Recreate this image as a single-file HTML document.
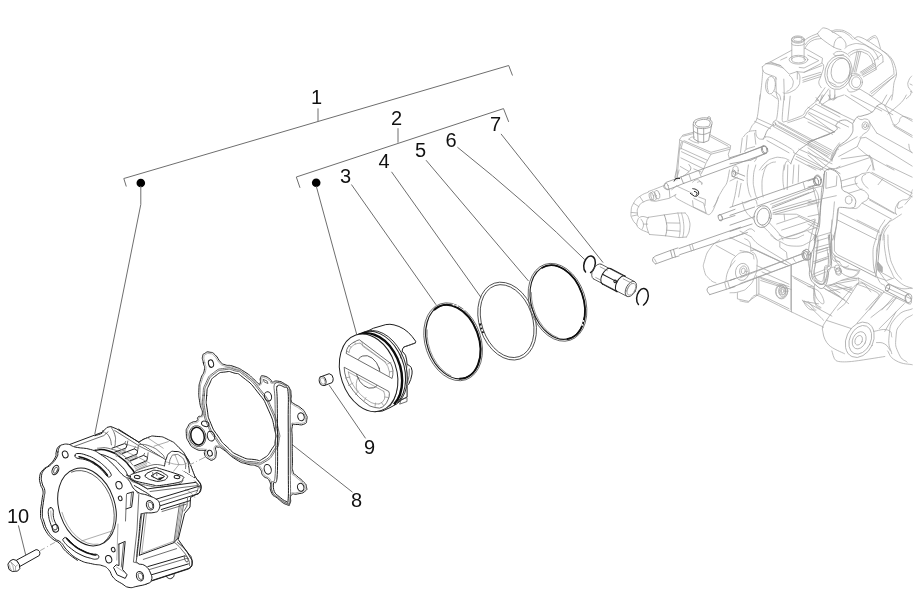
<!DOCTYPE html>
<html><head><meta charset="utf-8">
<style>
html,body{margin:0;padding:0;background:#fff;}
body{width:918px;height:610px;overflow:hidden;font-family:"Liberation Sans",sans-serif;}
svg{display:block;}
.lbl{font-family:"Liberation Sans",sans-serif;font-size:20px;fill:#111;}
.ld{stroke:#6e6e6e;stroke-width:1;fill:none;}
.k{stroke:#1e1e1e;stroke-width:1;fill:none;stroke-linejoin:round;stroke-linecap:round;}
.kb{stroke:#111;stroke-width:1.5;fill:none;stroke-linejoin:round;stroke-linecap:round;}
.k2{stroke:#4a4a4a;stroke-width:.8;fill:none;stroke-linejoin:round;stroke-linecap:round;}
.k3{stroke:#8a8a8a;stroke-width:.7;fill:none;stroke-linejoin:round;stroke-linecap:round;}
.gd{stroke:#909090;stroke-width:.8;fill:none;stroke-linejoin:round;stroke-linecap:round;}
.g{stroke:#a6a6a6;stroke-width:.75;fill:none;stroke-linejoin:round;stroke-linecap:round;}
.gl{stroke:#c4c4c4;stroke-width:.7;fill:none;stroke-linejoin:round;stroke-linecap:round;}
.w{fill:#fff !important;}
</style></head><body>
<svg width="918" height="610" viewBox="0 0 918 610">
<rect width="918" height="610" fill="#fff"/>
<!--crankcase-->
<g id="crankcase">
<ellipse class="g" cx="797.9" cy="39.1" rx="6.4" ry="3.2" transform="rotate(0.0 797.9 39.1)" />
<ellipse class="g" cx="797.9" cy="39.4" rx="4.4" ry="2.0" transform="rotate(0.0 797.9 39.4)" />
<ellipse class="g" cx="797.9" cy="40.0" rx="6.4" ry="3.2" transform="rotate(0.0 797.9 40.0)" />
<path class="g" d="M791.8 40.4 L791.8 59.4" />
<path class="g" d="M804.1 40.4 L804.1 59.4" />
<path class="g" d="M791.5 43.4 C792.4 44.0 791.2 44.6 794.2 45.2 C797.3 45.7 798.6 45.7 801.6 45.2 C804.6 44.6 803.5 44.0 804.3 43.4" />
<ellipse class="g" cx="798.5" cy="59.7" rx="9.4" ry="4.4" transform="rotate(0.0 798.5 59.7)" />
<ellipse class="g" cx="798.5" cy="59.7" rx="7.0" ry="3.2" transform="rotate(0.0 798.5 59.7)" />
<path class="g" d="M762.3 66.8 L766.0 63.7 L770.3 61.9 L791.8 50.2" />
<path class="g" d="M805.3 48.4 L822.5 58.2 L821.9 63.1 L804.1 72.3 L796.7 71.7 L789.3 74.2 L783.2 68.0 L780.7 65.6 L771.5 63.1 L766.0 63.7" />
<path class="g" d="M762.3 66.8 C762.4 67.4 762.3 69.4 762.9 70.5 C763.5 71.6 764.0 72.5 766.0 73.5 C767.9 74.6 772.8 75.7 774.6 76.6 C776.3 77.5 776.1 78.7 776.4 79.1" />
<path class="g" d="M766.0 63.7 C767.0 63.8 770.1 63.9 772.1 64.3 C774.2 64.7 776.4 65.6 778.3 66.2 C780.1 66.8 782.4 67.7 783.2 68.0" />
<path class="g" d="M770.3 61.9 L780.7 65.6" />
<path class="g" d="M780.7 60.0 L786.9 57.2" />
<path class="g" d="M807.8 55.1 L818.8 60.6 L804.1 68.0 L799.2 67.4" />
<path class="g" d="M796.7 71.7 C797.4 72.4 798.2 71.6 799.2 74.2 C800.1 76.7 800.1 76.6 799.8 80.3 C799.4 84.0 800.3 83.1 797.9 86.5 C795.5 89.8 795.5 89.3 791.8 91.4 C788.1 93.4 788.2 92.8 785.6 93.2 C783.1 93.6 783.9 92.8 783.2 92.6" />
<path class="g" d="M789.3 75.4 C790.3 76.5 791.3 76.5 792.4 79.1 C793.5 81.7 793.6 81.0 793.0 84.0 C792.5 86.9 792.4 86.7 790.6 88.9 C788.7 91.1 788.0 90.6 786.9 91.4" />
<path class="g" d="M797.3 71.7 L797.3 79.1" />
<ellipse class="g" cx="770.5" cy="85.2" rx="4.9" ry="8.8" transform="rotate(5.0 770.5 85.2)" />
<path class="g" d="M768.4 79.1 C768.1 80.9 767.2 81.4 767.2 85.2 C767.2 89.1 768.1 90.0 768.4 92.0" />
<path class="g" d="M762.9 70.5 C762.7 72.3 762.1 80.1 761.7 84.0 C761.3 87.9 760.1 97.8 759.8 100.0" />
<path class="g" d="M775.8 77.2 C775.9 79.4 776.1 91.0 776.4 93.8 C776.8 96.7 778.0 98.1 778.3 98.7" />
<path class="g" d="M783.8 79.1 L784.4 100.0" />
<path class="g" d="M774.6 91.4 C775.6 92.1 778.3 93.3 779.5 95.1 C780.7 96.8 780.5 99.0 780.7 100.0" />
<path class="g" d="M804.1 72.3 L821.9 65.6" />
<path class="g" d="M802.2 77.9 L820.7 72.3" />
<path class="g" d="M802.9 80.3 L821.3 74.2" />
<path class="g" d="M802.9 82.2 L820.7 76.6" />
<path class="g" d="M821.9 63.1 C822.3 64.0 824.0 63.6 823.7 66.8 C823.5 69.9 821.8 72.9 820.7 76.6 C819.5 80.4 818.7 80.2 818.8 82.8 C819.0 85.3 820.7 86.5 821.3 87.7" />
<ellipse class="g" cx="838.5" cy="72.3" rx="13.5" ry="17.4" transform="rotate(14.0 838.5 72.3)" />
<ellipse class="g" cx="838.7" cy="72.3" rx="11.4" ry="15.0" transform="rotate(14.0 838.7 72.3)" />
<ellipse class="g" cx="840.7" cy="70.7" rx="9.4" ry="12.6" transform="rotate(14.0 840.7 70.7)" />
<path class="g" d="M828.7 81.5 L836.0 85.2" />
<path class="g" d="M825.0 87.7 L816.4 100.0" />
<path class="g" d="M828.7 88.9 L820.7 100.0" />
<path class="g" d="M829.9 90.1 L829.9 100.0" />
<path class="g" d="M834.8 90.1 L834.8 98.7" />
<path class="g" d="M817.6 33.6 C818.4 32.6 818.7 31.4 820.7 29.9 C822.6 28.4 821.5 27.4 825.0 28.1 C828.4 28.7 829.3 29.9 833.6 32.4 C837.8 34.8 837.8 34.7 841.0 37.3 C844.1 39.9 843.9 39.7 845.3 42.2 C846.6 44.7 845.7 45.4 845.9 46.5" />
<path class="g" d="M817.6 33.6 C818.2 34.4 818.6 36.3 821.3 38.5 C824.0 40.8 830.3 45.3 833.6 47.1 C836.9 49.0 839.7 49.2 841.0 49.6" />
<path class="g" d="M833.6 47.1 C834.3 44.9 833.8 42.7 836.0 39.7 C838.2 36.8 839.5 38.0 841.0 37.3" />
<path class="g" d="M804.1 41.0 C805.4 40.0 805.4 39.3 809.0 37.3 C812.6 35.3 815.3 34.6 817.6 33.6" />
<path class="g" d="M804.7 48.4 C806.5 46.4 807.0 43.6 811.5 41.0 C815.9 38.4 818.7 39.2 821.3 38.5" />
<path class="g" d="M805.3 44.7 C806.6 43.3 806.6 41.9 810.2 39.5 C813.8 37.1 816.5 36.8 818.8 35.8" />
<path class="g" d="M833.6 53.9 C835.1 53.1 834.8 51.6 838.5 51.4 C842.2 51.2 842.6 51.6 845.9 53.3 C849.2 54.9 848.5 55.9 849.6 57.0" />
<path class="g" d="M833.6 53.9 C834.2 54.3 833.7 55.6 836.0 55.7 C838.3 55.9 841.7 54.8 843.4 54.5" />
<path class="g" d="M831.4 31.1 C833.6 30.8 833.9 29.5 838.7 29.9 C843.5 30.3 842.5 29.8 847.3 32.4 C852.1 35.0 852.5 36.7 854.7 38.5" />
<path class="g" d="M832.6 32.4 C834.6 32.1 835.1 30.9 839.3 31.4 C843.6 31.8 842.7 31.4 846.7 33.8 C850.8 36.3 851.0 37.8 852.9 39.5" />
<path class="g" d="M854.7 38.5 C855.3 38.2 856.3 36.4 858.4 36.7 C860.4 37.0 863.1 38.1 867.0 40.4 C870.9 42.6 878.1 47.6 881.7 50.2 C885.4 52.8 887.1 53.6 889.1 55.7 C891.2 57.9 892.8 60.0 894.0 63.1 C895.3 66.2 896.5 70.9 896.5 74.2 C896.5 77.4 894.7 79.5 894.0 82.8 C893.4 86.0 893.2 91.0 892.8 93.8 C892.4 96.7 891.8 99.0 891.6 100.0" />
<path class="g" d="M867.0 40.4 C868.2 39.5 871.2 36.7 873.1 36.1 C875.1 35.4 875.4 34.8 876.8 37.3 C878.3 39.7 879.8 46.1 880.5 48.4" />
<path class="g" d="M868.8 40.7 C869.8 40.1 872.4 38.0 873.8 37.5 C875.2 37.1 875.4 38.3 875.8 38.5" />
<path class="g" d="M854.7 38.5 C856.7 39.7 865.8 45.0 869.5 47.1 C873.1 49.3 879.9 52.5 881.7 54.5 C883.5 56.5 882.8 60.9 883.0 61.9" />
<path class="g" d="M844.9 48.4 C846.7 47.2 846.2 46.0 851.0 44.7 C855.8 43.4 855.3 43.1 860.9 44.1 C866.4 45.0 865.0 45.0 869.5 47.7 C873.9 50.5 873.0 49.8 875.6 53.3 C878.2 56.8 877.3 57.6 878.1 59.4" />
<path class="g" d="M848.6 53.3 C851.1 52.2 852.0 50.3 857.2 49.6 C862.3 48.8 861.3 49.0 865.8 50.8 C870.2 52.7 869.1 52.0 871.9 55.7 C874.7 59.4 873.9 59.4 875.0 63.1 C876.1 66.8 875.4 66.5 875.6 68.0" />
<path class="g" d="M850.4 55.1 C852.6 54.1 853.5 52.4 857.8 51.8 C862.1 51.2 861.1 51.4 864.8 53.0 C868.5 54.6 867.6 54.0 870.1 57.2 C872.5 60.4 872.0 61.8 872.9 63.7" />
<path class="g" d="M857.2 50.8 L852.9 71.7" />
<path class="g" d="M860.9 51.4 L855.9 72.3" />
<path class="g" d="M859.0 51.1 L854.5 72.0" />
<path class="g" d="M860.2 72.3 L874.4 63.1" />
<path class="g" d="M862.1 74.2 L875.6 65.6" />
<path class="g" d="M861.1 73.2 L875.0 64.3" />
<ellipse class="g" cx="855.7" cy="82.2" rx="6.8" ry="7.4" transform="rotate(0.0 855.7 82.2)" />
<ellipse class="g" cx="856.2" cy="82.2" rx="4.6" ry="5.4" transform="rotate(0.0 856.2 82.2)" />
<path class="g" d="M848.6 77.9 C849.1 76.7 848.4 75.5 850.4 74.2 C852.4 72.9 852.4 73.2 855.3 73.5 C858.3 73.9 858.8 74.8 860.2 75.4" />
<path class="g" d="M847.3 88.9 C848.4 89.8 847.3 92.0 851.0 92.0 C854.7 92.0 857.0 89.8 859.6 88.9" />
<path class="g" d="M875.6 68.0 L862.1 75.4" />
<path class="g" d="M876.2 69.5 L863.3 76.9" />
<path class="g" d="M881.7 54.5 L874.4 60.6" />
<path class="g" d="M883.0 61.9 C882.0 62.7 878.0 65.5 876.8 66.8 C875.7 68.1 876.3 69.0 876.2 69.5" />
<path class="g" d="M859.6 88.9 L871.9 96.3 L896.5 74.2" />
<path class="g" d="M871.3 93.8 L894.0 76.6" />
<path class="g" d="M870.1 92.4 L893.1 74.8" />
<path class="g" d="M881.7 50.2 C883.5 51.8 886.5 53.4 889.1 57.0 C891.7 60.5 891.7 61.5 892.8 65.6 C894.0 69.6 893.8 72.2 894.0 74.2" />
<path class="g" d="M911.9 76.0 C910.9 77.3 909.9 77.2 908.8 80.3 C907.7 83.4 907.4 82.8 908.2 86.5 C908.9 90.1 911.8 88.9 911.2 92.6 C910.7 96.3 907.8 96.9 906.3 98.7" />
<path class="g" d="M910.0 84.0 L912.5 85.2" />
<path class="g" d="M910.6 91.4 L913.1 92.6" />
<path class="gd" d="M693.8 122.2 C694.6 120.4 694.2 120.3 697.5 119.1 C700.8 118.0 702.5 117.6 706.1 117.9 C709.7 118.2 709.6 118.6 711.0 120.4 C712.5 122.2 712.3 122.7 711.7 124.7 C711.0 126.6 711.7 126.8 708.6 127.7 C705.5 128.7 703.7 128.8 700.0 128.4 C696.2 127.9 696.1 127.5 694.4 125.9 C692.8 124.3 693.0 124.0 693.8 122.2Z" />
<path class="gd" d="M695.7 122.8 C696.3 121.5 696.1 121.2 698.7 120.4 C701.4 119.5 702.6 119.2 705.5 119.5 C708.4 119.8 708.4 120.0 709.6 121.3 C710.7 122.7 710.3 123.0 709.8 124.4 C709.3 125.8 710.1 125.9 707.6 126.5 C705.1 127.2 703.6 127.2 700.6 126.9 C697.6 126.6 697.6 126.4 696.3 125.3 C695.0 124.2 695.0 124.1 695.7 122.8Z" />
<path class="gd" d="M693.2 124.7 L693.8 138.8 L698.7 141.9 L703.7 142.5 L708.6 140.6 L711.7 124.7" />
<path class="gd" d="M697.5 128.4 L698.1 141.9" />
<path class="gd" d="M703.7 128.4 L703.7 142.5" />
<path class="gd" d="M693.8 131.4 C694.8 131.9 696.7 133.3 698.7 133.9 C700.8 134.4 701.9 134.6 704.3 134.3 C706.6 133.9 709.2 132.5 710.4 132.0" />
<path class="gd" d="M707.4 118.5 C707.7 118.0 707.8 116.8 708.6 116.7 C709.4 116.5 710.1 116.8 710.4 117.9 C710.8 119.1 710.0 120.2 709.8 121.0" />
<path class="g" d="M679.7 139.4 L682.8 135.1 L693.2 132.3" />
<path class="g" d="M709.8 134.5 L730.7 145.6 L730.1 149.2 L711.0 154.2 L679.7 140.0" />
<path class="g" d="M684.0 140.6 L711.0 152.3 L729.5 147.4" />
<path class="g" d="M682.8 136.3 L693.8 133.5" />
<path class="g" d="M709.8 136.3 L728.2 146.2" />
<path class="g" d="M688.9 139.2 C689.6 138.6 689.9 137.7 691.4 137.2 C692.8 136.7 693.6 137.2 694.4 137.2" />
<path class="g" d="M688.9 139.2 C689.9 139.7 691.9 141.1 693.8 141.9 C695.8 142.7 697.8 142.9 698.7 143.1" />
<path class="g" d="M679.7 140.0 L679.1 146.8 L675.4 180.0" />
<path class="g" d="M681.5 141.9 L679.7 147.4 L676.9 180.0" />
<path class="g" d="M682.8 141.9 L680.9 149.2" />
<path class="g" d="M681.5 151.7 L704.9 162.8" />
<path class="g" d="M680.9 157.9 L703.7 168.9" />
<path class="g" d="M680.3 148.0 L707.4 160.3" />
<path class="g" d="M711.0 154.2 L706.1 162.8 L703.7 168.9 L701.2 173.8" />
<path class="g" d="M730.1 149.2 L728.2 154.2 L729.5 159.1" />
<path class="k3" d="M688.9 164.6 C689.3 165.6 691.3 166.8 690.8 168.9 C690.2 171.1 688.3 172.1 686.5 173.8 C684.6 175.6 683.6 175.7 682.8 176.3" />
<path class="g" d="M680.3 166.5 L688.9 171.4" />
<path class="g" d="M693.8 168.9 L701.2 172.0" />
<path class="gd" d="M681.5 176.8 L763.7 146.3" />
<path class="gd" d="M684.0 183.3 L766.6 153.1" />
<ellipse class="gd" cx="765.1" cy="149.6" rx="2.6" ry="3.7" transform="rotate(-20.0 765.1 149.6)" />
<path class="gd" d="M664.3 185.4 L666.2 182.3 L681.5 176.8" />
<path class="gd" d="M668.0 189.7 L684.0 183.3" />
<path class="gd" d="M664.3 185.4 C664.3 186.1 663.0 186.5 664.1 187.8 C665.2 189.1 666.8 189.1 668.0 189.7" />
<ellipse class="g" cx="666.5" cy="186.2" rx="1.8" ry="3.4" transform="rotate(-20.0 666.5 186.2)" />
<path class="gd" d="M680.9 177.1 L683.4 183.3" />
<path class="g" d="M688.9 174.3 L691.1 180.4" />
<path class="g" d="M698.7 170.6 L701.2 176.8" />
<path class="k" d="M674.2 181.1 C674.7 180.4 674.5 179.3 676.0 178.6 C677.5 177.9 678.7 178.6 679.7 178.6" />
<path class="g" d="M648.4 191.5 L653.3 189.7 L664.3 185.4" />
<path class="g" d="M650.8 200.7 L655.7 201.3 L669.2 198.3 L676.0 194.6" />
<ellipse class="g" cx="653.5" cy="196.1" rx="2.6" ry="4.6" transform="rotate(-15.0 653.5 196.1)" />
<ellipse class="g" cx="651.4" cy="196.4" rx="2.2" ry="4.0" transform="rotate(-15.0 651.4 196.4)" />
<ellipse class="g" cx="657.2" cy="194.6" rx="2.4" ry="4.4" transform="rotate(-15.0 657.2 194.6)" />
<path class="g" d="M669.2 188.4 L669.9 197.7" />
<path class="g" d="M648.4 192.1 C645.8 193.4 644.2 193.1 639.7 196.4 C635.3 199.7 636.2 198.6 633.6 203.2 C631.0 207.8 631.5 207.0 631.1 211.8 C630.8 216.6 630.5 215.1 632.4 219.2 C634.2 223.2 635.8 223.5 637.3 225.3" />
<path class="g" d="M651.4 199.5 C649.0 200.2 647.3 199.7 643.4 202.0 C639.6 204.2 640.4 203.6 638.5 206.9 C636.7 210.2 637.3 210.1 637.3 213.0 C637.3 216.0 638.2 215.6 638.5 216.7" />
<path class="g" d="M639.7 196.4 L643.4 202.0" />
<path class="g" d="M633.6 203.2 L638.8 206.6" />
<path class="g" d="M631.1 212.4 L637.3 213.0" />
<path class="g" d="M631.8 216.1 L637.5 214.9" />
<path class="g" d="M648.4 217.9 C646.6 217.6 643.6 215.8 641.0 216.7 C638.4 217.6 637.9 219.0 637.3 221.6 C636.7 224.2 635.9 225.2 638.5 227.8 C641.1 230.3 646.1 231.5 648.4 232.7" />
<path class="g" d="M648.4 217.3 L664.3 214.9 L677.9 213.0 L685.2 213.0" />
<path class="g" d="M649.6 234.5 L665.6 235.8 L679.1 237.6 L686.5 237.0" />
<path class="g" d="M685.2 213.0 C686.3 214.9 687.6 214.4 688.9 219.2 C690.2 224.0 690.3 223.7 689.5 229.0 C688.8 234.3 687.4 234.6 686.5 237.0" />
<path class="g" d="M648.4 217.3 C647.8 219.0 646.7 219.0 646.5 222.9 C646.3 226.7 646.8 226.7 647.7 230.2 C648.7 233.7 649.0 233.2 649.6 234.5" />
<path class="gd" d="M664.3 214.9 C664.9 216.9 665.4 217.4 666.2 221.6 C666.9 225.9 667.0 224.8 666.8 229.0 C666.6 233.2 665.9 233.7 665.6 235.8" />
<path class="g" d="M677.9 213.0 C678.4 215.6 679.0 216.5 679.7 221.6 C680.4 226.8 680.2 225.4 680.1 230.2 C679.9 235.0 679.4 235.4 679.1 237.6" />
<path class="g" d="M681.5 213.0 C682.1 215.6 682.7 216.5 683.4 221.6 C684.0 226.8 683.9 225.5 683.8 230.2 C683.6 234.9 683.1 235.2 682.8 237.4" />
<path class="g" d="M641.0 219.2 C641.7 220.6 643.1 221.1 643.4 224.1 C643.8 227.0 642.6 227.5 642.2 229.0" />
<path class="g" d="M643.4 224.1 L647.7 224.1" />
<path class="g" d="M666.8 222.9 L679.7 223.1" />
<path class="g" d="M666.8 230.2 L679.9 231.2" />
<path class="k" d="M692.8 188.7 C693.9 189.0 694.6 188.6 696.3 189.7 C698.0 190.7 698.1 190.4 698.5 192.1 C698.9 193.9 698.7 194.3 697.5 195.6 C696.4 196.8 695.5 196.0 694.7 196.2" />
<path class="k" d="M690.4 193.4 L693.8 195.8" />
<path class="k" d="M694.4 191.5 C695.1 191.8 696.4 191.8 696.9 192.7 C697.4 193.7 696.5 194.5 696.3 195.2" />
<path class="g" d="M676.6 186.0 L692.6 193.4" />
<path class="g" d="M675.4 194.6 C675.6 195.2 673.8 196.2 676.6 198.3 C679.5 200.3 687.7 204.3 692.6 206.9 C697.5 209.4 703.3 212.4 706.1 213.6 C709.0 214.9 708.6 215.0 709.8 214.2 C711.0 213.5 712.1 212.2 713.5 209.3 C714.9 206.5 716.8 200.5 718.4 197.0 C720.1 193.6 721.9 190.9 723.3 188.4 C724.8 186.0 726.0 185.4 727.0 182.3 C728.0 179.2 729.1 172.0 729.5 170.0" />
<path class="g" d="M692.6 200.7 L693.2 206.9 L706.1 213.0" />
<path class="g" d="M693.8 198.3 L703.7 203.2 L706.1 213.0" />
<path class="g" d="M698.7 197.0 L705.5 199.5 L704.9 205.6" />
<path class="g" d="M692.6 182.3 C693.7 181.6 694.1 180.2 696.3 179.8 C698.5 179.5 698.3 179.6 700.0 181.1 C701.6 182.5 701.3 183.6 701.8 184.7" />
<path class="g" d="M697.5 182.3 C698.4 182.1 699.1 181.3 700.6 181.7 C702.1 182.0 701.9 183.0 702.4 183.5" />
<path class="g" d="M671.7 189.7 L676.6 186.0" />
<path class="g" d="M676.6 170.0 L674.8 177.4" />
<path class="g" d="M679.1 170.0 L677.2 176.8" />
<path class="g" d="M718.4 197.0 C718.0 198.0 717.6 200.0 716.6 202.0 C715.6 203.9 714.1 205.9 713.5 206.9" />
<path class="gd" d="M718.4 215.5 L735.0 209.3" />
<path class="gd" d="M719.6 220.4 L735.0 215.5" />
<ellipse class="gd" cx="720.3" cy="217.7" rx="2.0" ry="3.4" transform="rotate(-20.0 720.3 217.7)" />
<path class="gd" d="M653.3 257.7 L655.7 255.9 L670.5 250.4 L677.9 247.9" />
<path class="gd" d="M655.7 263.9 L672.9 257.7 L679.1 255.9" />
<path class="gd" d="M653.3 257.7 C653.1 258.7 652.0 259.2 652.8 261.1 C653.5 262.9 654.8 263.0 655.7 263.9" />
<path class="gd" d="M679.1 248.5 L740.5 227.2" />
<path class="gd" d="M679.7 254.7 L747.4 232.5" />
<path class="gd" d="M670.5 250.4 L672.3 257.7" />
<path class="gd" d="M673.5 249.5 L675.4 256.9" />
<path class="g" d="M689.5 244.8 L691.4 251.0" />
<path class="g" d="M692.0 244.0 L693.8 250.1" />
<path class="g" d="M654.5 259.0 L656.3 262.3" />
<path class="gd" d="M708.6 287.2 L725.8 281.7 L735.0 278.6" />
<path class="gd" d="M709.8 294.6 L727.0 289.1 L735.0 286.6" />
<path class="gd" d="M708.6 287.2 C708.1 288.2 706.7 288.1 707.1 290.3 C707.5 292.5 709.0 293.3 709.8 294.6" />
<path class="g" d="M724.6 282.1 L726.4 289.1" />
<path class="g" d="M727.6 281.1 L729.5 288.1" />
<path class="g" d="M719.6 239.9 C717.1 242.1 715.5 241.4 711.0 247.3 C706.6 253.2 706.9 252.6 704.9 259.6 C702.9 266.6 702.8 264.7 704.3 270.6 C705.8 276.5 706.3 275.6 709.8 279.2 C713.3 282.9 714.1 281.8 716.0 282.9" />
<path class="g" d="M716.0 245.4 L735.0 255.9" />
<path class="g" d="M735.0 260.8 C733.2 263.4 730.7 265.1 728.2 270.6 C725.8 276.2 726.4 278.8 725.8 281.7" />
<path class="g" d="M760.1 95.0 C759.7 98.1 758.1 114.3 757.0 118.4 C756.0 122.5 753.1 124.1 752.1 125.7 C751.1 127.4 750.0 130.0 749.7 130.6" />
<path class="g" d="M771.8 95.0 C772.4 95.4 775.2 97.3 776.1 98.1 C777.0 98.9 778.5 98.4 778.5 101.1 C778.6 103.8 777.4 115.6 776.7 118.4 C776.1 121.1 774.0 121.0 773.6 121.4" />
<path class="g" d="M784.1 96.2 C783.8 99.3 782.0 116.2 782.2 119.6 C782.5 122.9 783.2 122.0 785.9 121.4 C788.6 120.9 799.8 116.8 802.5 115.3 C805.2 113.7 804.6 111.5 806.2 109.7 C807.8 108.0 813.2 103.7 814.8 102.4 C816.4 101.1 818.0 100.2 818.5 99.9" />
<path class="g" d="M790.2 96.2 L787.8 119.6" />
<path class="g" d="M787.8 122.7 C789.9 121.9 801.1 118.6 803.7 117.1 C806.4 115.6 805.8 113.3 807.4 111.6 C809.1 109.9 814.9 105.2 816.0 104.2" />
<path class="g" d="M816.0 97.5 L821.0 103.6" />
<path class="g" d="M822.2 95.0 L819.7 102.4" />
<path class="g" d="M828.3 95.0 C829.1 96.0 830.3 99.4 832.0 99.9 C833.7 100.4 835.9 97.9 836.9 97.5" />
<path class="g" d="M757.0 118.4 L771.8 125.1" />
<path class="g" d="M754.6 121.4 L770.6 128.8" />
<path class="g" d="M776.7 120.8 L832.0 150.3" />
<path class="g" d="M774.9 123.9 L830.8 154.0" />
<path class="g" d="M776.1 125.7 L829.6 155.2" />
<path class="g" d="M773.0 126.3 L828.3 156.5" />
<path class="g" d="M778.5 122.7 L831.4 152.2" />
<path class="g" d="M808.7 112.2 L840.0 128.2" />
<path class="g" d="M803.7 117.1 L834.5 131.9" />
<path class="g" d="M821.0 103.6 L840.0 113.4" />
<path class="g" d="M816.0 104.2 L840.0 117.1" />
<path class="gd" d="M773.6 124.5 C772.2 125.8 770.4 126.5 768.1 129.4 C765.8 132.4 766.3 132.9 765.0 135.6 C763.7 138.2 763.7 138.3 763.2 139.2" />
<path class="gd" d="M834.5 131.9 C829.6 133.8 824.2 135.3 816.0 139.2 C807.8 143.2 809.0 143.0 803.7 146.6 C798.5 150.2 799.3 149.5 796.4 152.8 C793.4 156.0 794.2 156.0 792.7 158.9 C791.2 161.9 791.3 162.5 790.8 163.8" />
<path class="g" d="M743.5 136.8 C744.7 135.6 745.6 133.3 748.4 131.9 C751.3 130.4 754.1 130.9 755.8 130.6" />
<path class="g" d="M742.3 138.0 L740.4 152.8" />
<path class="g" d="M747.2 135.6 L746.0 149.1" />
<path class="g" d="M755.8 130.6 C756.1 132.3 755.4 134.5 757.0 136.8 C758.7 139.1 759.7 139.2 762.0 139.2 C764.3 139.2 764.7 137.4 765.6 136.8" />
<path class="g" d="M754.6 133.1 L755.8 144.2" />
<path class="g" d="M765.6 136.8 C766.5 137.0 768.3 136.4 771.8 138.0 C775.2 139.7 788.5 147.1 791.5 149.1 C794.4 151.0 793.6 152.3 793.9 152.8" />
<path class="g" d="M766.9 140.5 L789.0 152.8" />
<path class="g" d="M793.9 152.8 L828.3 170.0" />
<path class="g" d="M796.4 156.5 L823.4 170.0" />
<path class="g" d="M798.8 149.1 L832.0 163.8" />
<path class="g" d="M795.1 158.9 L816.0 170.0" />
<ellipse class="g" cx="774.2" cy="123.9" rx="1.5" ry="2.0" transform="rotate(0.0 774.2 123.9)" />
<path class="gd" d="M746.0 152.8 L763.2 146.0" />
<path class="gd" d="M750.9 160.1 L765.6 153.4" />
<path class="gd" d="M730.0 157.7 L746.0 152.8" />
<path class="gd" d="M730.0 163.8 L750.9 160.1" />
<ellipse class="gd" cx="764.2" cy="149.7" rx="2.8" ry="4.2" transform="rotate(-15.0 764.2 149.7)" />
<path class="g" d="M744.7 151.5 C745.1 151.0 744.6 150.1 746.6 149.1 C748.6 148.1 753.0 147.1 754.6 146.6" />
<path class="g" d="M752.1 158.9 C753.0 158.8 755.9 157.8 756.4 158.3 C756.9 158.8 755.0 160.8 754.6 161.4" />
<path class="g" d="M759.5 170.0 C761.3 167.8 761.6 166.1 765.6 162.6 C769.7 159.1 768.2 159.8 773.0 158.3 C777.8 156.8 776.8 157.1 781.6 157.7 C786.4 158.2 786.8 159.4 789.0 160.1" />
<path class="g" d="M762.0 170.0 C764.2 168.1 765.3 166.2 769.3 163.8 C773.4 161.4 773.6 162.5 775.5 162.0" />
<path class="g" d="M832.0 161.4 C832.7 159.1 832.3 157.4 834.5 152.8 C836.6 148.2 838.5 146.5 840.0 144.2" />
<path class="g" d="M830.8 158.9 C831.4 156.9 831.0 155.8 833.2 151.5 C835.5 147.3 837.8 145.2 839.4 142.9" />
<path class="g" d="M784.1 170.0 C784.7 167.7 784.7 163.0 786.5 161.4 C788.3 159.7 789.7 163.2 790.8 163.8" />
<path class="gd" d="M730.0 207.4 L814.8 177.9" />
<path class="gd" d="M757.0 206.2 L816.0 185.3" />
<path class="gd" d="M730.0 215.4 L754.6 207.0" />
<ellipse class="gd" cx="817.9" cy="180.7" rx="3.0" ry="4.8" transform="rotate(-15.0 817.9 180.7)" />
<ellipse class="gd" cx="816.0" cy="181.5" rx="2.6" ry="4.2" transform="rotate(-15.0 816.0 181.5)" />
<path class="g" d="M803.1 182.2 L805.0 189.0" />
<ellipse class="gd" cx="762.6" cy="216.6" rx="8.6" ry="11.0" transform="rotate(12.0 762.6 216.6)" />
<ellipse class="gd" cx="763.2" cy="216.6" rx="6.2" ry="8.6" transform="rotate(12.0 763.2 216.6)" />
<path class="g" d="M770.6 204.3 L813.6 187.7" />
<path class="gd" d="M771.8 208.0 L814.8 190.8" />
<path class="gd" d="M773.0 212.9 L816.0 200.6" />
<path class="g" d="M775.5 214.2 L817.3 203.1" />
<path class="g" d="M772.4 206.2 L808.7 192.7" />
<path class="g" d="M773.0 210.5 L811.1 199.4" />
<path class="g" d="M748.4 165.0 C748.1 168.7 747.2 169.9 747.2 177.3 C747.2 184.7 747.3 183.7 748.4 189.6 C749.5 195.5 750.2 194.7 750.9 197.0" />
<path class="g" d="M755.8 165.0 C755.1 168.7 753.7 169.5 753.4 177.3 C753.0 185.0 753.3 184.2 754.6 190.8 C755.9 197.4 756.7 196.8 757.7 199.4" />
<path class="g" d="M766.9 165.0 C765.8 167.9 764.7 168.2 763.2 174.8 C761.7 181.5 762.0 180.5 762.0 187.1 C762.0 193.8 762.8 194.0 763.2 197.0" />
<path class="g" d="M784.1 165.0 C783.7 168.7 782.9 169.9 782.9 177.3 C782.9 184.7 783.7 185.9 784.1 189.6" />
<path class="g" d="M787.8 165.0 L787.2 189.6" />
<path class="g" d="M793.9 165.0 L792.7 183.4" />
<path class="g" d="M798.8 165.0 L798.2 182.2" />
<path class="g" d="M762.0 225.2 C764.3 227.5 766.6 229.9 770.6 233.8 C774.5 237.8 775.1 238.3 776.7 240.0" />
<path class="g" d="M769.3 222.8 C772.0 225.7 775.6 229.2 779.2 233.8 C782.8 238.4 781.9 238.3 782.9 240.0" />
<path class="gd" d="M824.6 171.1 C824.4 173.4 824.1 176.4 823.4 181.0 C822.7 185.6 822.1 185.9 821.6 190.8 C821.0 195.7 821.4 195.9 821.0 201.9 C820.5 207.9 820.9 209.7 819.7 216.6 C818.6 223.5 817.2 225.9 816.0 231.4 C814.9 236.8 815.1 238.0 814.8 240.0" />
<path class="gd" d="M827.1 169.9 C828.2 169.6 829.0 167.8 832.0 168.7 C835.0 169.5 838.1 172.5 840.0 173.6" />
<path class="g" d="M814.8 188.4 C815.8 190.6 817.7 192.0 818.5 197.0 C819.3 201.9 818.0 204.2 817.9 206.8" />
<path class="g" d="M773.0 214.2 L796.4 214.2 L818.5 224.0" />
<path class="g" d="M776.7 224.0 L798.8 216.6" />
<path class="g" d="M785.3 237.5 L816.0 227.7" />
<path class="g" d="M781.6 230.1 L814.8 219.1" />
<path class="g" d="M784.1 214.2 L784.7 220.3" />
<path class="g" d="M798.8 216.6 L818.5 226.5" />
<path class="gd" d="M732.5 171.1 L744.7 176.1" />
<path class="gd" d="M731.8 176.1 L743.5 180.4" />
<ellipse class="gd" cx="733.7" cy="173.4" rx="2.0" ry="3.4" transform="rotate(0.0 733.7 173.4)" />
<ellipse class="g" cx="735.5" cy="170.5" rx="2.8" ry="4.6" transform="rotate(0.0 735.5 170.5)" />
<path class="g" d="M737.4 181.0 C736.9 183.9 735.9 190.8 734.9 195.7 C733.9 200.6 732.9 203.6 732.5 205.6" />
<path class="g" d="M741.1 183.4 L738.6 197.0" />
<path class="g" d="M730.0 181.0 L737.4 177.3" />
<path class="gd" d="M730.0 225.2 L754.6 216.6" />
<path class="gd" d="M730.0 231.4 L752.1 224.0" />
<path class="g" d="M744.7 203.1 C746.7 202.4 752.1 199.2 754.6 199.4 C757.0 199.7 756.5 203.3 757.0 204.3" />
<path class="g" d="M742.3 201.9 C743.3 204.5 743.0 207.1 746.0 211.7 C748.9 216.3 751.4 217.1 753.4 219.1" />
<path class="g" d="M742.3 233.8 C744.0 232.7 746.8 229.5 749.7 228.9 C752.5 228.3 753.4 230.8 754.6 231.4" />
<path class="g" d="M730.0 238.7 L742.3 233.8" />
<path class="gd" d="M730.0 280.5 L803.7 253.4" />
<path class="gd" d="M730.0 287.9 L805.0 259.6" />
<ellipse class="gd" cx="807.2" cy="254.7" rx="3.6" ry="5.6" transform="rotate(-15.0 807.2 254.7)" />
<ellipse class="gd" cx="805.2" cy="255.3" rx="3.0" ry="5.0" transform="rotate(-15.0 805.2 255.3)" />
<path class="g" d="M792.7 257.7 L795.1 261.4" />
<path class="gd" d="M816.0 235.0 C815.8 237.3 816.0 240.2 814.8 244.8 C813.7 249.4 812.3 249.5 811.1 254.7 C810.0 259.8 810.2 261.8 809.9 267.0 C809.6 272.1 808.7 272.8 809.9 276.8 C811.0 280.8 811.7 281.6 814.8 284.2 C818.0 286.7 820.3 289.9 823.4 287.9 C826.6 285.8 827.5 280.1 828.3 275.6 C829.2 271.0 826.5 271.1 827.1 268.2 C827.7 265.3 830.2 267.9 830.8 263.3 C831.4 258.7 830.1 255.1 829.6 248.5 C829.0 241.9 828.6 238.2 828.3 235.0" />
<path class="g" d="M818.5 239.9 C817.9 244.5 816.9 251.3 816.0 259.6 C815.2 267.9 813.4 269.8 814.8 275.6 C816.2 281.3 819.9 284.2 822.2 284.2 C824.5 284.2 824.1 279.6 824.6 275.6 C825.2 271.5 823.8 269.8 824.6 267.0 C825.5 264.1 827.8 267.6 828.3 263.3 C828.9 259.0 827.4 252.0 827.1 248.5" />
<path class="g" d="M816.0 251.0 L828.3 247.3" />
<path class="g" d="M814.8 263.3 L828.3 258.4" />
<path class="g" d="M813.6 276.8 L825.9 271.9" />
<path class="g" d="M816.7 253.4 L828.3 249.7" />
<path class="g" d="M790.8 265.7 L790.8 310.0" />
<path class="g" d="M779.8 242.4 L779.8 247.3 L786.5 252.2 L787.2 258.4" />
<path class="g" d="M730.0 267.0 C731.5 264.0 730.5 261.5 734.9 257.1 C739.3 252.7 739.2 252.9 744.7 252.2 C750.3 251.5 750.8 253.9 753.4 254.7" />
<ellipse class="g" cx="742.3" cy="271.9" rx="6.8" ry="8.6" transform="rotate(10.0 742.3 271.9)" />
<ellipse class="g" cx="743.3" cy="270.9" rx="3.7" ry="5.0" transform="rotate(10.0 743.3 270.9)" />
<ellipse class="g" cx="743.3" cy="270.9" rx="2.0" ry="2.8" transform="rotate(10.0 743.3 270.9)" />
<path class="g" d="M752.1 252.2 C753.2 253.3 754.3 251.8 755.8 255.9 C757.3 260.0 757.4 259.5 757.0 265.7 C756.7 272.0 757.2 270.5 754.6 276.8 C752.0 283.1 752.9 282.2 748.4 286.6 C744.0 291.0 745.4 289.7 739.8 291.5 C734.3 293.4 732.9 292.4 730.0 292.8" />
<path class="g" d="M758.9 276.8 L758.9 294.0 L748.4 301.4 L737.4 298.9 L737.4 292.8" />
<path class="g" d="M758.9 276.8 L789.0 286.6" />
<path class="g" d="M758.9 294.0 L789.0 308.7" />
<path class="g" d="M760.7 280.5 L787.8 289.1" />
<ellipse class="g" cx="781.6" cy="291.5" rx="6.0" ry="7.4" transform="rotate(0.0 781.6 291.5)" />
<ellipse class="g" cx="782.2" cy="291.3" rx="3.0" ry="3.8" transform="rotate(0.0 782.2 291.3)" />
<ellipse class="g" cx="782.6" cy="291.0" rx="1.4" ry="1.8" transform="rotate(0.0 782.6 291.0)" />
<ellipse class="g" cx="781.0" cy="291.8" rx="5.0" ry="6.4" transform="rotate(0.0 781.0 291.8)" />
<path class="g" d="M770.6 235.0 C773.1 236.8 772.2 237.8 779.2 241.1 C786.2 244.5 785.1 245.7 793.9 246.1 C802.8 246.4 802.4 245.7 808.7 242.4 C814.9 239.1 813.0 237.2 814.8 235.0" />
<path class="g" d="M779.2 235.0 C782.9 236.1 784.1 238.7 791.5 238.7 C798.8 238.7 800.1 236.1 803.7 235.0" />
<path class="g" d="M730.0 237.5 L779.2 260.8" />
<path class="g" d="M752.1 248.5 L789.0 265.7" />
<path class="g" d="M754.6 249.7 L786.5 264.5" />
<path class="g" d="M762.0 271.9 L789.0 284.2" />
<path class="g" d="M791.5 275.6 L813.6 286.6" />
<path class="g" d="M793.9 278.0 L813.6 289.1" />
<path class="g" d="M750.9 251.0 L754.6 249.7" />
<path class="g" d="M814.8 284.2 C814.5 287.4 813.3 291.2 813.6 296.5 C813.9 301.7 814.1 300.9 816.0 303.8 C818.0 306.8 819.6 306.5 821.0 307.5" />
<path class="g" d="M823.4 287.9 L840.0 296.5" />
<path class="g" d="M828.3 286.6 L840.0 292.8" />
<path class="g" d="M802.5 300.1 C803.7 301.9 806.0 306.8 808.7 308.7 C811.4 310.7 814.6 309.7 816.0 310.0" />
<path class="g" d="M803.7 301.4 L818.5 303.8" />
<path class="g" d="M832.0 235.0 C831.7 238.4 830.2 244.3 830.8 249.7 C831.4 255.2 832.3 255.5 834.5 258.4 C836.6 261.2 838.7 261.2 840.0 262.0" />
<ellipse class="g" cx="837.2" cy="268.4" rx="2.8" ry="3.4" transform="rotate(0.0 837.2 268.4)" />
<path class="g" d="M744.7 238.7 C745.9 239.5 748.2 239.5 749.7 242.4 C751.1 245.2 750.6 249.0 750.9 251.0" />
<path class="g" d="M757.0 265.7 L770.6 271.9" />
<path class="gd" d="M808.0 141.7 C814.9 139.1 826.3 136.5 833.8 131.9 C841.3 127.3 834.0 127.6 836.3 124.5 C838.6 121.4 838.8 120.9 842.4 120.2 C846.0 119.5 847.0 120.2 849.8 122.0 C852.6 123.8 852.9 123.0 852.9 127.0 C852.9 130.9 853.6 131.5 849.8 136.8 C846.0 142.0 842.7 142.0 838.7 146.6 C834.8 151.2 837.0 150.4 835.0 154.0 C833.1 157.6 832.3 158.5 831.4 160.1" />
<path class="gd" d="M852.9 123.3 C854.0 121.6 854.7 119.1 857.2 117.1 C859.6 115.2 858.1 117.2 862.1 115.9 C866.0 114.6 868.0 114.8 871.9 112.2 C875.8 109.6 874.2 108.4 876.8 106.1 C879.5 103.8 880.4 104.3 881.7 103.6" />
<ellipse class="g" cx="865.2" cy="125.7" rx="3.2" ry="3.8" transform="rotate(10.0 865.2 125.7)" />
<ellipse class="g" cx="865.2" cy="125.7" rx="1.5" ry="2.0" transform="rotate(10.0 865.2 125.7)" />
<path class="g" d="M857.2 117.1 C858.1 117.8 858.6 119.1 860.9 119.6 C863.1 120.1 863.5 118.3 865.8 119.0 C868.1 119.6 868.6 119.3 869.5 122.0 C870.3 124.8 870.5 126.1 868.8 129.4 C867.2 132.7 865.8 132.0 863.3 134.3 C860.9 136.6 860.6 137.0 859.6 138.0" />
<path class="g" d="M860.9 138.0 L865.8 137.4 L912.5 166.3" />
<path class="g" d="M857.2 146.6 L860.9 138.0" />
<path class="g" d="M858.4 147.9 L867.0 155.2 L894.0 170.0" />
<path class="g" d="M876.8 133.1 L912.5 152.8" />
<path class="g" d="M881.7 103.6 L912.5 121.4" />
<path class="g" d="M869.5 122.0 L876.8 133.1" />
<path class="g" d="M884.2 104.8 C885.2 106.6 887.2 109.5 889.1 113.4 C891.1 117.4 892.1 122.8 894.0 124.5 C896.0 126.2 897.7 123.3 899.0 122.0 C900.2 120.8 899.2 119.5 900.2 118.4 C901.2 117.2 901.4 116.3 903.9 116.5 C906.3 116.8 910.8 119.0 912.5 119.6" />
<path class="g" d="M892.8 124.5 L912.5 135.6" />
<path class="g" d="M876.8 106.1 L892.8 114.7" />
<path class="g" d="M894.0 126.3 L912.5 137.4" />
<path class="g" d="M808.0 107.3 L848.6 127.0" />
<path class="g" d="M808.0 113.4 L833.8 131.9" />
<path class="g" d="M808.0 122.0 L832.6 134.3" />
<path class="g" d="M821.5 104.8 L854.7 120.8" />
<path class="g" d="M844.9 95.0 L871.9 112.2" />
<path class="g" d="M851.0 95.0 L881.7 111.0" />
<path class="g" d="M869.5 95.0 L881.7 103.6" />
<path class="g" d="M815.4 101.1 L820.3 95.0" />
<path class="g" d="M819.1 103.6 L824.0 95.0" />
<path class="g" d="M828.9 99.9 L830.1 95.0" />
<path class="g" d="M833.8 99.9 L835.0 95.0" />
<path class="g" d="M821.5 104.8 L828.9 99.9 L843.6 95.0" />
<path class="g" d="M886.7 95.0 L881.7 103.6" />
<path class="g" d="M891.6 95.0 L885.4 105.4" />
<path class="g" d="M906.3 95.0 C905.5 96.2 904.5 99.2 901.4 102.4 C898.3 105.5 890.1 112.1 887.9 114.1" />
<path class="g" d="M808.0 144.2 L831.4 160.1 L824.0 167.5 L820.3 170.0" />
<path class="g" d="M808.0 147.9 L827.7 161.4" />
<path class="g" d="M808.0 151.5 L825.2 165.1" />
<path class="g" d="M808.0 155.2 L822.7 167.5" />
<path class="g" d="M840.0 146.6 L857.2 136.8" />
<path class="g" d="M838.7 156.5 L857.2 146.6" />
<path class="g" d="M841.2 158.9 L867.0 155.2" />
<path class="g" d="M836.3 168.7 L869.5 157.7" />
<path class="g" d="M831.4 160.1 C832.0 158.2 831.8 155.7 833.8 152.8 C835.8 149.8 837.4 150.1 838.7 149.1" />
<path class="g" d="M867.0 155.2 C868.3 156.2 870.3 155.0 871.9 158.9 C873.6 162.8 872.8 167.0 873.1 170.0" />
<path class="g" d="M869.5 155.2 L874.4 170.0" />
<path class="g" d="M908.8 144.2 C909.1 145.8 909.0 148.0 910.0 150.3 C911.0 152.6 911.8 152.1 912.5 152.8" />
<path class="gd" d="M824.0 174.8 C824.6 173.7 824.4 171.1 826.4 169.9 C828.4 168.8 829.7 168.8 832.6 169.9 C835.5 171.1 836.7 172.0 838.7 174.8 C840.7 177.7 840.3 178.8 841.2 182.2 C842.0 185.6 840.7 187.0 842.4 189.6 C844.1 192.2 845.7 191.3 848.6 193.3 C851.4 195.3 853.1 195.6 854.7 198.2 C856.3 200.8 855.9 202.0 855.3 204.3 C854.7 206.6 855.3 207.3 852.2 208.0 C849.2 208.7 845.6 207.4 842.4 207.4 C839.3 207.4 839.9 207.0 838.7 208.0 C837.6 209.0 838.1 207.4 837.5 211.7 C836.9 216.0 837.4 219.9 836.3 226.5 C835.1 233.1 833.4 236.8 832.6 240.0" />
<path class="gd" d="M824.0 174.8 C823.9 177.8 824.1 182.9 823.4 189.6 C822.6 196.2 821.0 201.1 820.3 208.0 C819.6 214.9 820.4 218.3 819.7 224.0 C818.9 229.7 817.7 233.1 816.6 236.3 C815.5 239.5 814.6 239.2 814.1 240.0" />
<path class="g" d="M826.4 172.4 L825.8 188.4 L836.3 185.9 L836.9 176.1" />
<path class="g" d="M834.4 201.9 C834.1 204.9 833.5 214.0 832.6 220.3 C831.7 226.7 829.5 236.7 828.9 240.0" />
<path class="g" d="M838.7 208.0 L834.4 240.0" />
<ellipse class="g" cx="848.6" cy="200.0" rx="3.4" ry="4.0" transform="rotate(0.0 848.6 200.0)" />
<ellipse class="gd" cx="817.8" cy="180.0" rx="3.6" ry="5.0" transform="rotate(-10.0 817.8 180.0)" />
<path class="gd" d="M808.0 181.0 L815.4 178.5" />
<path class="gd" d="M808.0 187.1 L816.6 184.7" />
<path class="g" d="M855.9 177.3 L862.1 173.6 L869.5 172.4 L912.5 197.0" />
<path class="g" d="M855.9 177.3 C855.8 178.6 854.3 179.3 855.3 182.2 C856.3 185.2 856.8 185.7 859.6 188.4 C862.4 191.0 863.5 189.4 865.8 192.0 C868.1 194.7 869.2 195.2 868.2 198.2 C867.2 201.1 865.0 200.5 862.1 203.1 C859.1 205.7 859.8 206.7 857.2 208.0 C854.5 209.3 853.6 208.0 852.2 208.0" />
<path class="g" d="M868.2 198.2 L896.5 214.2" />
<path class="g" d="M862.1 203.1 L891.6 219.1" />
<path class="g" d="M871.9 172.4 L912.5 193.3" />
<path class="g" d="M865.8 174.2 C864.8 175.0 862.7 174.8 862.1 177.3 C861.4 179.7 861.7 180.5 863.3 183.4 C864.9 186.4 866.9 187.0 868.2 188.4" />
<path class="g" d="M841.2 181.0 L857.2 176.1" />
<path class="g" d="M842.4 187.1 L857.2 183.4" />
<path class="g" d="M848.6 193.3 L862.1 189.0" />
<path class="g" d="M883.0 178.5 L878.1 184.7" />
<path class="g" d="M869.5 200.0 L894.0 213.5" />
<path class="g" d="M912.5 189.6 C911.5 191.9 911.7 195.2 908.8 198.2 C905.8 201.1 904.7 198.7 901.4 200.6 C898.1 202.6 898.1 202.6 896.5 205.6 C894.9 208.5 895.3 209.4 895.3 211.7 C895.3 214.0 896.2 213.5 896.5 214.2" />
<path class="g" d="M901.4 214.2 C899.4 215.5 898.0 216.5 894.0 219.1 C890.1 221.7 889.9 220.7 886.7 224.0 C883.4 227.3 883.4 227.1 881.7 231.4 C880.1 235.6 880.8 237.7 880.5 240.0" />
<path class="g" d="M899.0 201.9 C898.6 203.5 896.7 206.7 897.7 208.0 C898.7 209.3 901.3 207.1 902.6 206.8" />
<path class="g" d="M905.1 204.3 L912.5 195.7" />
<path class="g" d="M840.0 212.9 L879.3 232.6" />
<path class="g" d="M889.1 225.2 C887.8 227.2 885.8 228.7 884.2 232.6 C882.6 236.5 883.3 238.0 883.0 240.0" />
<path class="g" d="M808.0 189.6 L822.7 185.9" />
<path class="g" d="M808.0 204.3 L820.3 201.9" />
<path class="g" d="M808.0 201.9 L836.3 195.7" />
<path class="g" d="M808.0 216.6 L819.1 214.2" />
<path class="g" d="M812.9 187.1 C814.1 192.0 816.4 198.8 817.8 208.0 C819.3 217.2 818.8 222.2 819.1 226.5" />
<path class="g" d="M825.2 165.0 C827.2 166.0 828.6 168.4 832.6 168.7 C836.5 169.0 838.0 166.9 840.0 166.2" />
<path class="g" d="M867.0 171.1 L870.7 165.0" />
<path class="g" d="M886.7 165.0 L912.5 177.3" />
<path class="g" d="M808.0 165.0 L820.3 169.9" />
<path class="g" d="M808.0 224.0 L817.8 228.9" />
<path class="g" d="M808.0 231.4 L816.6 236.3" />
<path class="gd" d="M815.4 235.0 C815.1 237.5 814.6 241.9 814.1 247.3 C813.7 252.7 813.4 256.4 812.9 262.0 C812.4 267.7 811.2 271.6 811.7 275.6 C812.2 279.5 813.2 280.0 815.4 281.7 C817.6 283.4 820.5 285.1 822.7 284.2 C825.0 283.2 825.5 279.5 826.4 276.8 C827.4 274.1 826.7 272.9 827.7 270.6 C828.6 268.4 830.7 269.2 831.4 265.7 C832.0 262.3 831.1 259.6 830.7 253.4 C830.4 247.3 829.8 238.7 829.5 235.0" />
<path class="g" d="M817.8 237.5 C817.6 239.9 817.1 244.6 816.6 249.7 C816.1 254.9 815.9 258.1 815.4 263.3 C814.9 268.4 812.9 271.9 814.1 275.6 C815.4 279.2 819.6 281.7 821.5 281.7 C823.5 281.7 823.2 278.3 824.0 275.6 C824.7 272.9 824.2 270.4 825.2 268.2 C826.2 266.0 828.3 267.4 828.9 264.5 C829.5 261.5 828.4 255.6 828.3 253.4" />
<path class="g" d="M816.6 241.1 L828.9 237.5" />
<path class="g" d="M816.0 251.0 L828.3 247.3" />
<path class="g" d="M814.1 263.3 L826.4 258.4" />
<path class="g" d="M812.9 274.3 L825.2 269.4" />
<path class="gd" d="M831.4 235.0 L832.0 252.2 L835.0 255.9 L875.6 276.8 L878.1 260.8 L880.5 235.0" />
<path class="g" d="M834.4 235.0 L834.4 251.0 L837.5 254.7 L874.4 273.1 L876.2 260.8 L879.3 235.0" />
<path class="g" d="M835.0 255.9 C835.3 257.3 834.3 259.5 836.3 262.0 C838.3 264.6 840.8 266.1 843.6 267.0 C846.5 267.8 847.4 266.0 848.6 265.7" />
<ellipse class="g" cx="838.5" cy="271.6" rx="3.0" ry="3.7" transform="rotate(0.0 838.5 271.6)" />
<path class="g" d="M884.2 235.0 C884.6 240.5 883.6 243.1 885.4 253.4 C887.3 263.8 886.3 260.9 890.4 269.4 C894.4 277.9 892.3 276.0 899.0 281.7 C905.6 287.4 908.4 286.4 912.5 288.5" />
<path class="g" d="M887.9 235.0 C888.3 240.2 887.3 242.3 889.1 252.2 C891.0 262.2 890.4 260.1 894.0 268.2 C897.7 276.3 899.2 275.9 901.4 279.2" />
<path d="M878.1 262.0 L882.4 267.0 L882.4 271.9 L878.1 270.0Z" fill="#b0b0b0" stroke="#999" stroke-width=".5"/>
<path class="g" d="M878.1 270.6 L891.6 278.0" />
<path class="g" d="M875.6 276.8 L886.7 280.5 L894.0 278.0" />
<path class="gd" d="M886.7 285.4 L889.1 284.2 L908.8 294.0" />
<path class="gd" d="M885.4 290.3 L906.3 301.4" />
<ellipse class="gd" cx="887.6" cy="287.9" rx="2.0" ry="3.2" transform="rotate(20.0 887.6 287.9)" />
<path class="gd" d="M906.3 295.2 C907.1 294.4 909.1 293.7 910.0 294.0 C910.9 294.3 911.8 295.8 911.9 297.1 C912.0 298.3 911.4 300.4 910.6 301.4 C909.8 302.3 907.9 303.0 906.9 302.6 C906.0 302.2 905.2 300.1 905.1 298.9 C905.0 297.7 905.5 296.0 906.3 295.2Z" />
<path class="g" d="M827.7 286.6 C829.9 285.6 836.5 282.3 841.2 280.5 C845.9 278.6 852.9 277.2 855.9 275.6 C859.0 273.9 859.0 271.5 859.6 270.6" />
<path class="g" d="M825.2 289.1 L844.9 300.1" />
<path class="g" d="M830.1 285.4 L852.2 290.3" />
<path class="g" d="M841.2 280.5 L858.4 278.0 L859.0 281.7 L844.9 303.8 L837.5 310.0" />
<path class="g" d="M833.8 284.2 L851.0 292.8" />
<path class="g" d="M836.3 282.9 L852.2 289.1" />
<path class="g" d="M843.6 267.0 C846.1 267.7 853.0 269.7 855.9 270.6 C858.9 271.6 858.6 270.9 858.4 271.9 C858.1 272.9 855.4 274.8 854.7 275.6" />
<path class="g" d="M858.4 278.0 L884.2 291.5 L869.5 310.0" />
<path class="g" d="M860.9 281.7 L881.7 292.8" />
<path class="g" d="M881.7 292.8 L865.8 310.0" />
<path class="g" d="M894.0 296.5 L881.7 310.0" />
<path class="g" d="M896.5 297.7 L886.7 310.0" />
<path class="g" d="M808.0 286.6 C809.4 287.2 812.4 285.1 814.1 289.1 C815.9 293.1 813.9 299.2 815.4 303.8 C816.8 308.4 819.1 307.6 820.3 308.7" />
<path class="g" d="M808.0 301.4 L814.1 308.7" />
<path class="g" d="M740.0 300.8 C740.8 300.9 746.7 302.7 748.4 302.2 C750.0 301.6 752.4 294.2 756.7 295.2 C761.0 296.2 784.8 308.7 791.5 311.9 C798.2 315.1 820.4 325.7 823.6 327.2" />
<path class="g" d="M791.5 264.6 L791.5 311.9" />
<path class="g" d="M756.7 275.7 L756.7 295.2" />
<path class="g" d="M760.9 278.5 L791.5 289.6" />
<path class="g" d="M740.0 277.9 L804.1 252.9" />
<path class="g" d="M740.0 283.5 L806.9 259.0" />
<ellipse class="g" cx="806.9" cy="255.7" rx="3.0" ry="4.4" transform="rotate(-15.0 806.9 255.7)" />
<ellipse class="g" cx="804.6" cy="256.2" rx="2.2" ry="3.6" transform="rotate(-15.0 804.6 256.2)" />
<ellipse class="g" cx="783.2" cy="291.0" rx="4.6" ry="6.0" transform="rotate(0.0 783.2 291.0)" />
<ellipse class="g" cx="783.2" cy="291.0" rx="2.6" ry="3.6" transform="rotate(0.0 783.2 291.0)" />
<path class="g" d="M815.2 220.0 C813.8 226.7 808.8 242.3 808.2 253.4 C807.7 264.6 809.4 269.6 812.4 275.7 C815.5 281.8 819.7 285.7 823.6 284.1 C827.5 282.4 827.5 269.0 831.9 267.4 C836.4 265.7 840.8 273.5 845.8 275.7 C850.9 277.9 854.8 277.9 857.0 278.5" />
<path class="g" d="M831.9 220.0 C831.9 227.2 830.5 247.9 831.9 256.2 C833.3 264.6 836.1 259.3 838.9 261.8 C841.7 264.3 841.7 267.1 845.8 268.7 C850.0 270.4 857.0 269.9 859.8 270.1" />
<ellipse class="g" cx="838.3" cy="271.0" rx="2.6" ry="3.2" transform="rotate(0.0 838.3 271.0)" />
<path class="g" d="M816.6 236.7 L830.5 232.5" />
<path class="g" d="M815.2 247.9 L830.5 243.7" />
<path class="g" d="M813.0 261.8 L829.1 256.2" />
<path class="g" d="M804.1 300.8 L831.9 316.1" />
<path class="g" d="M802.7 300.8 C804.5 302.4 810.3 307.3 813.8 310.5 C817.3 313.8 821.9 318.7 823.6 320.3" />
<path class="g" d="M813.8 288.2 C815.7 289.7 818.2 289.7 820.8 293.8 C823.4 297.9 824.7 302.5 823.6 303.6 C822.5 304.7 819.2 302.1 816.6 298.0 C814.0 293.9 814.6 290.8 813.8 288.2" />
<path class="g" d="M826.4 285.5 L857.0 279.9" />
<path class="g" d="M829.1 291.0 L851.4 286.9" />
<path class="g" d="M823.6 284.1 L848.6 303.6" />
<ellipse class="g" cx="859.8" cy="339.8" rx="13.5" ry="18.5" transform="rotate(25.0 859.8 339.8)" />
<ellipse class="g" cx="860.3" cy="339.8" rx="10.5" ry="15.0" transform="rotate(25.0 860.3 339.8)" />
<ellipse class="g" cx="859.2" cy="340.3" rx="6.5" ry="9.0" transform="rotate(25.0 859.2 340.3)" />
<ellipse class="g" cx="858.7" cy="340.3" rx="3.5" ry="5.0" transform="rotate(25.0 858.7 340.3)" />
<path class="g" d="M844.5 353.7 C841.9 352.3 832.7 348.8 829.1 345.3 C825.6 341.9 823.5 337.0 823.0 332.8 C822.5 328.6 820.7 328.4 826.4 320.3 C832.0 312.2 849.6 288.8 857.0 284.1 C864.4 279.3 868.6 290.6 870.9 291.9" />
<path class="g" d="M826.4 320.3 L851.4 328.6" />
<path class="g" d="M857.0 284.1 C859.2 285.2 879.3 291.3 879.3 295.2 C879.3 299.1 859.2 320.3 857.0 323.1" />
<path class="g" d="M831.9 350.9 C832.5 352.2 833.5 359.3 836.1 360.7 C838.7 362.1 844.9 362.1 851.4 361.5 C857.9 360.9 880.4 357.2 884.8 356.5" />
<path class="g" d="M873.7 331.4 C877.9 331.0 882.2 328.4 887.6 330.0 C893.1 331.7 890.6 334.9 891.8 337.0" />
<path class="g" d="M876.5 342.6 C878.7 342.9 881.1 341.7 884.8 344.0 C888.6 346.2 888.9 349.1 890.4 350.9" />
<path class="g" d="M870.9 317.5 L896.0 298.0" />
<path class="g" d="M879.3 328.6 L904.3 303.6" />
<path class="g" d="M884.8 331.4 L896.0 311.9" />
<path class="g" d="M890.4 220.0 C887.5 225.0 884.8 225.0 880.7 236.7 C876.5 248.4 876.1 247.3 876.5 259.0 C876.9 270.7 876.2 267.4 882.1 275.7 C887.9 284.1 886.8 283.1 896.0 286.9 C905.2 290.6 907.7 287.8 912.7 288.2" />
<path class="g" d="M884.8 220.0 C882.3 225.0 880.0 225.0 876.5 236.7 C873.0 248.4 872.7 246.5 873.1 259.0 C873.6 271.5 874.4 270.6 877.9 278.5 C881.4 286.4 882.8 283.4 884.8 285.5" />
<path class="g" d="M891.8 353.7 C891.0 348.7 887.8 347.9 889.0 337.0 C890.3 326.1 888.9 326.0 896.0 317.5 C903.1 309.0 907.7 311.3 912.7 308.6" />
<path class="g" d="M912.7 314.7 C909.4 317.2 906.6 316.4 901.6 323.1 C896.5 329.7 896.8 327.8 896.0 337.0 C895.2 346.2 895.4 346.2 898.8 353.7 C902.1 361.2 904.6 359.6 907.1 362.1" />
<path class="g" d="M887.6 350.9 C890.1 353.8 888.5 356.5 896.0 360.7 C903.5 364.8 907.7 363.6 912.7 364.8" />
<path class="g" d="M884.8 286.9 L910.5 298.6" />
<path class="g" d="M883.5 291.9 L907.1 303.0" />
<ellipse class="g" cx="908.5" cy="299.4" rx="2.6" ry="5.0" transform="rotate(-20.0 908.5 299.4)" />
<path class="g" d="M857.0 220.0 L879.3 231.1" />
<path class="g" d="M837.5 220.0 L876.5 239.5" />
<path class="g" d="M751.1 236.7 L740.0 231.1" />
<path class="g" d="M779.0 239.5 C784.8 237.5 795.6 235.7 804.1 231.1 C812.5 226.6 812.6 222.6 815.2 220.0" />
<path class="g" d="M740.0 250.6 C743.0 251.4 747.4 251.2 751.1 253.4 C754.9 255.7 753.2 257.5 753.9 259.0" />
<path class="g" d="M751.1 236.7 C752.3 237.8 754.1 241.4 759.5 245.1 C764.9 248.8 787.3 262.0 791.5 264.6" />
<rect x="912.6" y="0" width="6" height="610" fill="#fff"/>

</g>
<!--brackets-->
<g id="brackets">
<g class="ld">
<path d="M126.3 186.5 L123.8 178.5 L508.7 65.5 L512.5 75.5"/>
<path d="M318 108.4 V121.4"/>
<path d="M300 187.8 L296.3 177 L503.5 108.6 L508.7 121.9"/>
<path d="M398 128.2 V142.7"/>
</g>
<circle cx="140.8" cy="183" r="4.3" fill="#000"/>
<circle cx="316.2" cy="182.8" r="4.3" fill="#000"/>

</g>
<!--leaders-->
<g id="leaders">
<g class="ld">
<path d="M140.8 186 V204.4 L94.8 434"/>
<path d="M316.3 186.3 L356.6 334"/>
<path d="M351.4 184.5 L436.1 304.8"/>
<path d="M391.5 171.8 L480.9 297.3"/>
<path d="M426 160.2 L528.5 281"/>
<path d="M457.4 147.2 Q530 205 584.8 259.7"/>
<path d="M501 133.9 L603.1 262.6"/>
<path d="M352.5 492.2 L291.8 444.3"/>
<path d="M365.6 438.4 L329.2 385.2"/>
<path d="M18.4 525.4 L25.7 554.9"/>
</g>

</g>
<!--labels-->
<g id="labels">
<g class="lbl" style="filter:grayscale(1)">
<text x="311" y="104">1</text>
<text x="391" y="124.7">2</text>
<text x="340" y="182.8">3</text>
<text x="378.4" y="167.8">4</text>
<text x="415" y="157">5</text>
<text x="445.5" y="146.7">6</text>
<text x="490" y="131.4">7</text>
<text x="351" y="506.5">8</text>
<text x="364" y="453.6">9</text>
<text x="7" y="523">10</text>
</g>

</g>
<!--rings-->
<g id="rings">
<g transform="translate(453.1 341.8) rotate(-18.7)">
<ellipse rx="27.9" ry="40" stroke="#555" stroke-width=".8" fill="none"/>
<ellipse rx="25.9" ry="38" stroke="#1a1a1a" stroke-width="1.2" fill="none"/>
<path d="M-8 -36.15 A25.9 38 0 1 1 -6 36.97" stroke="#0e0e0e" stroke-width="2" fill="none"/>
<path d="M-22 -20 A25.9 38 0 0 0 -14 32" stroke="#777" stroke-width=".7" fill="none" transform="translate(1.4 0)"/>
<!-- marks -->
<path d="M11.5 -35.4 l1.6 .9 M14.8 -33.4 l1.2 .9 M20.3 -27.6 l1 1.2" stroke="#fff" stroke-width="1.6" fill="none"/>
</g>
<g transform="translate(507.1 321.1) rotate(-18.7)">
<ellipse rx="27.9" ry="40" stroke="#444" stroke-width=".85" fill="none"/>
<ellipse rx="25.4" ry="37.5" stroke="#444" stroke-width=".85" fill="none"/>
<path d="M-26.6 -6.5 l0 2.2 M-26.8 -2 l0 1.6 M-26.6 1.8 l.1 1.8" stroke="#111" stroke-width="1.9" fill="none"/>
</g>
<g transform="translate(557.5 302.3) rotate(-18.7)">
<ellipse rx="27.9" ry="40" stroke="#555" stroke-width=".8" fill="none"/>
<ellipse rx="26" ry="38.1" stroke="#1a1a1a" stroke-width="1.1" fill="none"/>
<path d="M-4 -37.65 A26 38.1 0 1 1 -3 37.85" stroke="#0e0e0e" stroke-width="1.8" fill="none"/>
<path d="M-23 -18 A26 38.1 0 0 0 -12 34" stroke="#777" stroke-width=".7" fill="none" transform="translate(1.5 0)"/>
<path d="M15.6 30 l1.2 -1.6 M18 26.6 l.9 -1.5" stroke="#fff" stroke-width="1.5" fill="none"/>
</g>

</g>
<!--pin-->
<g id="pin">
<!-- circlips -->
<g transform="translate(589.7 264.5) rotate(14)">
<path d="M-2.2 8.3 A5.6 8.8 0 1 1 2.8 7.6" stroke="#151515" stroke-width="1.5" fill="none" stroke-linecap="round"/>
</g>
<g transform="translate(642.6 297) rotate(14)">
<path d="M-2.2 8.3 A5.6 8.8 0 1 1 2.8 7.6" stroke="#151515" stroke-width="1.5" fill="none" stroke-linecap="round"/>
</g>
<!-- pin -->
<g transform="translate(614.5 280.5) rotate(27.5)">
<path class="k2" d="M-19.5 -8.3 H18.5 M-19.5 8.3 H18.5"/>
<path class="k2" d="M-19.5 -8.3 A4.6 8.3 0 0 0 -19.5 8.3"/>
<ellipse class="k2" cx="18.5" cy="0" rx="4.8" ry="8.3"/>
<ellipse class="k3" cx="19" cy="0" rx="3.6" ry="6.4"/>
<path class="k3" d="M15.4 -3 V5.5"/>
<path class="k" d="M-9 -8.8 H7.5 M-9 8.8 H7.5"/>
<path class="k" d="M-9 -8.8 A4.6 8.8 0 0 0 -9 8.8"/>
<path class="k" d="M7.5 -8.8 A4.6 8.8 0 0 0 7.5 8.8"/>
<path class="k" d="M-13.5 0 H3"/>
<circle class="k" cx="1" cy="0.5" r="1.3"/>
<path class="k3" d="M-19 -5.5 H-11 M7 -5.5 H17 M-18 6 H-12"/>
</g>

</g>
<!--piston-->
<g id="piston">
<!-- skirt / body behind crown -->
<path class="k w" d="M362.1 333.8 L373.5 328.2 L385.8 324.6 Q390 323.8 394 324.9 Q399 326 403.9 329 Q408.5 332 412 336.4 L415.7 341.3 L415.3 343 L403.9 347 Q402 349 402.2 351.1 L405.5 355.2 Q407 360 407.1 364.3 Q410 365.5 411.2 367.5 Q412.6 371 412 374.1 Q411 380 408.8 383.9 L407.1 385.6 L407.1 397 L400.6 400.3 L397.3 403.6 Q390 408 382.5 411 L374.9 411.7 L360 380 Z"/>
<path class="k2" d="M403.9 347 Q409 345.5 415.3 343 M402.2 351.1 Q400.5 354 400.5 358 M407.1 364.3 Q405.5 372 405.8 384 M409.3 369 Q410 375 407.5 383"/>
<path class="k2" d="M401.5 399.5 L407 397.5 L407 401.5 L400 404 Z"/>
<!-- ring grooves (parallel ellipses shifted along axis) -->
<g transform="translate(368.6 372.8)">
<g transform="translate(9.6 -3.5) rotate(-18.7)"><path d="M-3 -39.7 A27.8 39.9 0 0 1 9 37.7" stroke="#333" stroke-width=".9" fill="none"/></g>
<g transform="translate(8 -2.9) rotate(-18.7)"><path d="M-5 -39.2 A27.8 39.9 0 0 1 9 37.7" stroke="#222" stroke-width="1" fill="none"/></g>
<g transform="translate(5.6 -2) rotate(-18.7)"><path d="M-9 -37.7 A27.8 39.9 0 0 1 8 38.2" stroke="#0c0c0c" stroke-width="2.4" fill="none"/></g>
<g transform="translate(2 -.7) rotate(-18.7)"><path d="M-10 -37.2 A27.8 39.9 0 0 1 7 38.6" stroke="#333" stroke-width=".8" fill="none"/></g>
<!-- crown -->
<g transform="rotate(-18.7)"><ellipse rx="27.8" ry="39.9" class="k w"/></g>
</g>
<!-- valve pockets -->
<path class="k2" d="M346.2 353 Q346.5 349 348.2 346.7 Q351 343.5 354.5 341.9 Q357 340.3 359.4 339.8 L390.8 363.5 Q392.5 367 392.9 370.4 Q393.2 375 392.2 378.1 Z"/>
<path class="k2" d="M344.5 367.4 L388.7 391.4 L389.4 393.5 Q389.5 397 388 399.7 Q386.8 403 384.5 405.3 Q382.5 407.5 379.6 408.1 Q375 408 369.9 406 Q364 402 358.7 396.9 Q353 391 348.9 384.4 Q346 379 344.8 373.2 Z"/>
<path class="k3" d="M349 352.3 Q349.5 349 351 347.2 Q354 344.2 357 343.5 L360 343.2 M360 343.2 L386 362.5 M349 352.3 L346.5 351 M351 347.2 L348.5 345.5 M355.5 344 L354.3 341.5 M362 342 L362.5 346 L385 362 M385 362 Q388.5 366 389.5 372 L389.2 376.5 M389.5 372 L393 371 M387.5 364 L391 362.5"/>
<path class="k3" d="M348.3 372 L383.8 391.4 M383.8 391.4 Q385.5 395 384.5 399 Q383 403 379 404 M348.3 372 Q349 377 351.5 382.5 Q355 389 360.5 394.5 Q365 399 371 402.5 Q375 404.5 379 404 M345.3 378 L350 377 M348.5 385.5 L353 383 M355.5 394.5 L358.5 391 M364 401 L366 397.5 M375 406.5 L375.5 403 M383.5 405.5 L381.5 402.5 M388.5 397.5 L385 397 M357 391 Q355 383 358 377.5"/>
<!-- bowl -->
<clipPath id="cpu"><path d="M346.2 353 Q346.5 349 348.2 346.7 Q351 343.5 354.5 341.9 Q357 340.3 359.4 339.8 L390.8 363.5 Q392.5 367 392.9 370.4 Q393.2 375 392.2 378.1 Z"/></clipPath>
<clipPath id="cpl"><path d="M344.5 367.4 L388.7 391.4 L389.4 393.5 Q389.5 397 388 399.7 Q386.8 403 384.5 405.3 Q382.5 407.5 379.6 408.1 Q375 408 369.9 406 Q364 402 358.7 396.9 Q353 391 348.9 384.4 Q346 379 344.8 373.2 Z"/></clipPath>
<g clip-path="url(#cpu)"><ellipse class="k2" cx="368.1" cy="371.9" rx="11.7" ry="16.8" transform="rotate(-18.7 368.1 371.9)"/></g>
<g clip-path="url(#cpl)"><ellipse class="k2" cx="368.1" cy="371.9" rx="11.7" ry="16.8" transform="rotate(-18.7 368.1 371.9)"/></g>
<!-- small pin 9 -->
<path class="k w" d="M321.8 376.4 L329.2 373.7 Q333 374.5 333.2 378.5 Q333.2 381.5 332.1 382.6 L324.3 385.6 Z"/>
<ellipse class="k w" cx="322.6" cy="381" rx="3.3" ry="4.7" transform="rotate(-18 322.6 381)"/>
<ellipse class="k3" cx="322.8" cy="381" rx="2.2" ry="3.4" transform="rotate(-18 322.8 381)"/>

</g>
<!--gasket-->
<g id="gasket">
<path class="k w" d="M203.4 363.0 C202.8 358.5 201.9 360.0 202.5 356.7 C203.1 353.4 202.8 354.6 205.2 353.1 C207.6 351.6 206.5 351.6 209.8 352.2 C213.1 352.8 211.6 351.6 215.2 354.9 C218.8 358.2 217.3 358.8 220.6 362.1 C223.9 365.4 220.6 363.3 225.1 364.8 C229.6 366.3 227.5 364.2 234.1 366.6 C240.7 369.0 238.3 367.8 244.9 372.0 C251.5 376.2 249.4 375.4 253.9 379.3 C258.4 383.2 256.3 382.4 258.4 383.6 C260.5 384.8 259.6 384.9 260.3 382.9 C261.0 380.9 259.4 379.8 260.6 377.5 C261.8 375.2 260.7 375.4 263.9 376.0 C267.1 376.6 267.5 377.3 270.2 379.3 C272.9 381.3 269.6 381.4 272.0 382.0 C274.4 382.6 273.2 380.5 277.4 381.1 C281.6 381.7 280.6 381.4 284.6 383.8 C288.6 386.2 287.3 384.7 289.5 388.3 C291.7 391.9 290.5 390.3 291.1 394.5 C291.7 398.7 290.4 398.0 291.3 401.0 C292.2 404.0 290.6 401.2 293.8 403.6 C297.0 406.0 297.1 404.8 301.0 408.1 C304.9 411.4 303.6 409.7 305.5 413.5 C307.4 417.3 307.4 415.9 306.8 419.5 C306.2 423.1 307.4 422.6 303.7 424.3 C300.0 426.0 299.4 423.8 295.6 424.5 C291.8 425.2 293.4 421.3 292.3 426.5 C291.2 431.7 292.2 428.8 292.2 440.0 C292.2 451.2 292.2 449.6 292.4 460.0 C292.6 470.4 291.5 466.0 292.9 471.2 C294.3 476.4 293.2 472.4 296.5 475.7 C299.8 479.0 299.5 477.6 302.8 481.2 C306.1 484.8 305.8 483.1 306.4 486.6 C307.0 490.1 307.6 489.1 304.6 491.6 C301.6 494.1 301.8 492.8 297.4 494.0 C293.0 495.2 293.7 492.3 291.3 495.2 C288.9 498.1 291.8 499.7 290.2 502.8 C288.6 505.9 290.8 506.1 286.6 504.6 C282.4 503.1 282.6 502.5 277.5 498.3 C272.4 494.1 273.8 497.7 271.2 492.0 C268.6 486.3 272.3 486.6 269.6 481.2 C266.9 475.8 266.2 479.6 263.1 475.7 C260.0 471.8 262.8 472.7 260.4 469.4 C258.0 466.1 260.4 467.6 255.9 465.8 C251.4 464.0 253.5 466.1 246.9 464.0 C240.3 461.9 243.9 464.3 236.1 459.5 C228.3 454.7 229.4 453.7 223.4 449.6 C217.4 445.5 220.6 447.7 218.0 447.2 C215.4 446.7 216.2 445.7 215.6 448.0 C215.0 450.3 216.9 450.3 216.2 454.1 C215.5 457.9 216.2 458.0 213.5 459.5 C210.8 461.0 211.1 460.4 208.1 458.6 C205.1 456.8 205.4 456.9 204.5 454.1 C203.6 451.3 205.9 451.5 205.5 450.3 C205.1 449.1 206.8 451.0 203.4 450.5 C200.0 450.0 200.1 451.4 195.3 448.7 C190.5 446.0 192.0 447.5 189.0 442.4 C186.0 437.3 186.6 438.8 186.3 433.4 C186.0 428.0 186.3 429.8 188.1 426.2 C189.9 422.6 188.7 424.3 191.7 422.5 C194.7 420.7 195.0 422.5 197.1 420.7 C199.2 418.9 196.3 419.4 198.0 417.1 C199.7 414.8 201.7 418.6 202.3 413.8 C202.9 409.0 200.9 410.6 199.8 402.7 C198.7 394.8 198.6 397.9 198.9 390.1 C199.2 382.3 198.9 385.9 200.7 379.3 C202.5 372.7 203.4 375.6 204.3 370.2 C205.2 364.8 204.0 367.5 203.4 363.0Z" />
<path class="k" d="M206.7 395.5 C207.4 386.8 206.4 390.7 209.5 384.0 C212.6 377.3 210.8 379.5 216.0 375.5 C221.2 371.5 219.1 372.8 225.1 372.0 C231.1 371.2 228.0 371.2 234.0 373.0 C240.0 374.8 235.3 371.2 243.1 377.5 C250.9 383.8 249.1 381.1 257.5 391.9 C265.9 402.7 262.7 397.3 268.4 409.9 C274.1 422.5 272.4 419.8 274.7 429.8 C277.0 439.8 276.2 433.7 275.3 440.0 C274.4 446.3 276.2 442.5 272.1 448.7 C268.0 454.9 269.1 455.0 263.1 458.6 C257.1 462.2 261.9 460.4 254.1 459.5 C246.3 458.6 248.7 460.1 239.7 455.9 C230.7 451.7 234.3 453.5 227.1 446.9 C219.9 440.3 223.4 443.9 218.0 436.1 C212.6 428.3 214.4 432.1 210.8 423.4 C207.2 414.7 208.7 419.3 207.3 410.0 C205.9 400.7 206.0 404.2 206.7 395.5Z" />
<path class="k2" d="M204.4 395.3 C205.2 386.2 204.0 390.2 207.4 383.0 C210.8 375.8 208.8 378.1 214.6 373.7 C220.4 369.2 218.1 370.7 224.8 369.7 C231.5 368.8 228.1 368.8 234.7 370.8 C241.3 372.8 236.3 369.1 244.5 375.7 C252.8 382.3 250.7 379.4 259.3 390.5 C268.0 401.6 264.6 396.0 270.5 408.9 C276.4 421.9 274.6 418.8 276.9 429.3 C279.3 439.7 278.6 433.4 277.6 440.3 C276.6 447.2 278.5 443.2 274.0 450.0 C269.6 456.7 271.0 456.6 264.3 460.6 C257.6 464.5 262.4 462.6 253.8 461.8 C245.3 460.9 248.2 462.4 238.7 458.0 C229.3 453.6 233.1 455.5 225.5 448.6 C218.0 441.7 221.7 445.5 216.1 437.4 C210.5 429.3 212.4 433.3 208.7 424.3 C205.0 415.2 206.4 420.0 205.0 410.3 C203.6 400.7 203.6 404.4 204.4 395.3Z" />
<path class="k2" d="M203.0 395.2 C203.8 385.8 202.6 390.0 206.1 382.4 C209.7 374.9 207.6 377.3 213.7 372.6 C219.9 367.9 217.5 369.4 224.6 368.3 C231.7 367.3 228.1 367.4 235.1 369.5 C242.0 371.6 237.0 367.9 245.4 374.6 C253.9 381.3 251.6 378.4 260.4 389.6 C269.2 400.9 265.8 395.3 271.8 408.4 C277.7 421.5 275.9 418.3 278.3 429.0 C280.7 439.7 280.0 433.3 279.0 440.5 C277.9 447.8 279.8 443.6 275.2 450.7 C270.5 457.8 272.2 457.6 265.0 461.8 C257.8 465.9 262.6 464.0 253.7 463.2 C244.7 462.3 247.8 463.8 238.1 459.3 C228.4 454.7 232.3 456.6 224.6 449.6 C216.9 442.6 220.7 446.5 215.0 438.2 C209.2 429.9 211.2 434.0 207.4 424.8 C203.6 415.6 205.1 420.4 203.6 410.5 C202.2 400.7 202.2 404.6 203.0 395.2Z" />
<path class="k3" d="M204.8 362.8 C204.2 358.3 203.5 359.8 203.9 357.0 C204.3 354.1 204.0 355.4 205.9 354.3 C207.8 353.2 206.8 353.0 209.6 353.6 C212.3 354.1 210.9 352.8 214.3 355.9 C217.6 359.1 216.1 359.7 219.6 363.1 C223.1 366.5 220.0 364.5 224.7 366.1 C229.3 367.7 227.1 365.6 233.6 367.9 C240.1 370.3 237.7 369.0 244.1 373.2 C250.6 377.3 248.5 376.5 253.0 380.4 C257.5 384.2 254.8 383.8 257.7 384.8 C260.6 385.8 260.2 385.6 261.6 383.4 C263.0 381.2 261.2 380.1 261.8 378.1 C262.5 376.1 261.1 376.6 263.6 377.4 C266.2 378.1 266.7 378.4 269.4 380.4 C272.0 382.4 269.0 382.7 271.7 383.4 C274.3 384.0 273.1 381.9 277.2 382.5 C281.3 383.0 280.2 382.8 283.9 385.0 C287.6 387.2 286.4 385.8 288.3 389.0 C290.2 392.3 289.2 390.6 289.7 394.7 C290.3 398.8 288.9 398.1 290.0 401.4 C291.0 404.7 289.6 402.1 293.0 404.7 C296.4 407.3 296.3 406.0 300.1 409.2 C303.9 412.3 302.5 410.8 304.3 414.1 C306.0 417.5 305.8 416.3 305.4 419.3 C305.0 422.2 306.5 421.7 303.1 423.0 C299.8 424.3 299.4 422.1 295.3 423.1 C291.3 424.2 292.4 420.6 290.9 426.2 C289.4 431.8 290.8 428.7 290.8 440.0 C290.8 451.3 290.8 449.5 291.0 460.0 C291.2 470.5 290.0 466.0 291.5 471.6 C293.0 477.1 292.1 473.2 295.5 476.7 C298.9 480.2 298.6 478.8 301.8 482.1 C304.9 485.5 304.4 484.0 305.0 486.8 C305.7 489.6 306.4 488.6 303.7 490.5 C301.0 492.5 301.5 491.4 297.0 492.6 C292.5 493.9 292.9 491.1 290.2 494.3 C287.5 497.5 290.0 499.2 288.9 502.2 C287.9 505.2 290.6 504.9 287.1 503.3 C283.5 501.6 283.3 501.2 278.4 497.2 C273.5 493.3 275.0 497.0 272.5 491.4 C270.0 485.9 273.6 486.1 270.9 480.6 C268.1 475.1 267.3 478.8 264.2 474.8 C261.1 470.8 264.1 472.0 261.5 468.6 C258.9 465.1 261.2 466.5 256.4 464.5 C251.7 462.5 253.9 464.7 247.3 462.7 C240.8 460.6 244.5 463.0 236.8 458.3 C229.1 453.6 230.4 452.6 224.2 448.4 C218.0 444.3 221.6 446.1 218.3 445.8 C215.0 445.6 215.4 445.0 214.2 447.6 C213.1 450.3 215.3 450.3 214.8 453.8 C214.3 457.4 214.8 457.1 212.8 458.3 C210.8 459.5 211.1 458.9 208.8 457.4 C206.5 455.9 206.5 456.2 205.8 453.7 C205.2 451.2 207.6 451.4 206.8 449.9 C206.1 448.4 207.2 449.9 203.6 449.1 C200.0 448.3 200.5 450.0 196.0 447.5 C191.5 445.0 193.0 446.4 190.2 441.7 C187.4 437.0 188.0 438.3 187.7 433.3 C187.4 428.4 187.8 430.0 189.4 426.8 C190.9 423.6 189.5 425.4 192.4 423.7 C195.3 422.0 195.8 423.7 198.0 421.8 C200.2 419.8 197.2 420.5 199.1 417.9 C201.0 415.3 203.0 419.1 203.7 414.0 C204.4 408.8 202.3 410.4 201.2 402.5 C200.1 394.6 200.0 397.8 200.3 390.2 C200.6 382.5 200.3 386.2 202.1 379.7 C203.8 373.1 204.8 376.0 205.7 370.4 C206.6 364.8 205.4 367.3 204.8 362.8Z" />
<path class="k" d="M277.2 386.2 C278.6 383.6 281.8 385.9 284.0 387.0 C286.2 388.1 287.2 384.9 288.0 391.5 C288.8 398.1 288.1 404.3 288.2 420.0 C288.3 435.7 288.3 454.3 288.3 470.0 C288.3 485.7 288.7 492.2 288.2 498.5 C287.7 504.8 287.8 501.7 286.0 501.3 C284.2 500.9 281.3 498.5 279.0 496.5 C276.7 494.5 275.4 494.2 274.3 491.5 C273.2 488.8 273.1 485.7 273.6 483.0 C274.1 480.3 276.2 486.6 277.0 478.0 C277.8 469.4 277.6 455.6 277.6 440.0 C277.6 424.4 277.3 410.8 277.2 400.0 C277.1 389.2 275.8 388.8 277.2 386.2Z" />
<path class="k2" d="M274.8 383.8 C276.8 380.8 282.0 383.6 285.0 385.0 C288.0 386.4 289.0 384.0 290.0 391.0 C291.0 398.0 290.1 404.2 290.2 420.0 C290.3 435.8 290.3 454.0 290.3 470.0 C290.3 486.0 291.0 493.3 290.2 500.0 C289.4 506.7 289.0 503.8 286.5 503.3 C284.0 502.8 280.3 499.8 277.5 497.5 C274.7 495.2 273.5 495.0 272.3 492.0 C271.1 489.0 270.9 485.5 271.4 482.5 C271.9 479.5 274.2 485.5 275.0 477.0 C275.8 468.5 275.6 455.4 275.6 440.0 C275.6 424.6 275.2 411.2 275.0 400.0 C274.8 388.8 272.8 386.8 274.8 383.8Z" />
<ellipse class="k" cx="211.0" cy="363.6" rx="2.5" ry="3.8" transform="rotate(-15.0 211.0 363.6)" />
<ellipse class="k" cx="268.0" cy="396.4" rx="3.5" ry="4.7" transform="rotate(-15.0 268.0 396.4)" />
<ellipse class="k" cx="301.0" cy="416.8" rx="3.2" ry="4.0" transform="rotate(-15.0 301.0 416.8)" />
<ellipse class="k" cx="300.7" cy="487.3" rx="3.2" ry="4.0" transform="rotate(-15.0 300.7 487.3)" />
<ellipse class="k" cx="267.7" cy="469.3" rx="3.5" ry="4.9" transform="rotate(-15.0 267.7 469.3)" />
<ellipse class="k" cx="209.9" cy="453.2" rx="2.4" ry="3.0" transform="rotate(-15.0 209.9 453.2)" />
<ellipse class="k" cx="205.2" cy="423.8" rx="3.8" ry="2.6" transform="rotate(20.0 205.2 423.8)" />
<ellipse class="k" cx="211.0" cy="436.1" rx="3.6" ry="5.0" transform="rotate(-15.0 211.0 436.1)" />
<ellipse class="kb" cx="197.5" cy="436.1" rx="6.6" ry="9.0" transform="rotate(-15.0 197.5 436.1)" />
<ellipse class="k2" cx="197.5" cy="436.1" rx="8.3" ry="10.6" transform="rotate(-15.0 197.5 436.1)" />
<path class="k2" d="M263.5 379.5 l3.5 1.5 l1 2.5 l-3.3 -1.3 Z" />

</g>
<!--cylinder-->
<g id="cylinder">
<path class="k w" d="M70.2 444.3 L102.1 432.3 L107.0 427.4 L110.8 426.5 L116.9 429.0 L138.8 442.1 L143.0 439.5 L148.7 437.3 L155.0 436.5 L161.3 437.5 L168.0 440.3 L175.7 444.8 L182.5 451.5 L188.4 460.1 L193.8 474.5 L197.4 479.9 L200.5 484.0 L201.0 488.5 L199.2 493.0 L195.6 494.6 L190.5 497.5 L190.0 507.0 L184.6 513.5 L178.2 539.5 L186.6 551.3 L192.0 560.3 L192.0 566.0 L188.4 569.0 L151.4 581.0 L146.9 583.8 L128.9 587.4 L100.0 560.0 L60.0 470.0Z" />
<path class="k2" d="M74.3 446.4 L103.8 435.6 L108.1 431.8" />
<path class="k" d="M118.6 429.2 L138.9 442.3 L163.2 458.0 L194.7 477.7" />
<path class="k2" d="M114.7 430.5 L139.6 446.2 L165.8 459.3 L192.7 476.4" />
<path class="k2" d="M110.7 426.6 C112.0 429.2 113.1 429.2 114.7 434.4 C116.2 439.7 115.3 438.4 115.3 442.3 C115.3 446.2 114.9 444.9 114.7 446.2" />
<path class="k2" d="M104.8 432.5 C106.4 434.0 107.2 432.9 109.4 437.0 C111.6 441.2 110.7 442.3 111.4 444.9" />
<path class="k" d="M102.9 430.5 C102.7 431.0 103.8 432.1 102.2 433.1 C100.6 434.2 96.4 435.2 95.0 435.7" />
<path class="k w" d="M138.9 442.3 C141.8 440.8 141.6 439.7 147.5 437.7 C153.4 435.7 149.6 435.7 156.6 436.4 C163.6 437.0 161.0 436.0 168.4 439.7 C175.9 443.4 172.8 441.4 178.9 447.5 C185.1 453.7 182.0 449.7 186.8 458.0 C191.6 466.3 190.7 465.9 193.4 472.5 C196.0 479.0 194.2 476.0 194.7 477.7" />
<path class="k2" d="M138.9 444.3 C142.7 444.9 142.9 443.4 150.1 446.2 C157.3 449.1 155.8 448.9 160.6 452.8 C165.4 456.7 163.2 456.3 164.5 458.0" />
<path class="k3" d="M154.0 446.2 L168.4 441.6" />
<path class="k3" d="M147.5 437.7 L163.2 448.2" />
<path class="k w" d="M164.5 465.9 C165.2 463.3 164.7 462.4 166.5 458.0 C168.2 453.7 166.9 455.0 169.8 452.8 C172.6 450.6 171.1 451.3 175.0 451.5 C178.9 451.7 177.6 450.8 181.6 453.4 C185.5 456.1 184.4 454.8 186.8 459.3 C189.2 463.9 187.9 462.8 188.8 467.2 C189.6 471.6 189.2 470.7 189.4 472.5" />
<path class="k2" d="M169.1 464.6 C169.8 462.2 169.1 460.7 171.1 457.4 C173.0 454.1 171.9 455.2 175.0 454.8 C178.1 454.3 177.0 453.7 180.2 456.1 C183.5 458.5 183.1 457.8 184.8 462.0 C186.6 466.1 185.3 466.3 185.5 468.5" />
<path class="k3" d="M166.5 462.0 C170.6 462.8 172.2 464.2 178.9 464.6 C185.7 465.0 184.2 463.7 186.8 463.3" />
<path class="k3" d="M178.9 464.6 L173.7 471.1" />
<path class="k3" d="M175.0 454.8 L178.9 464.6" />
<path class="kb" d="M95.0 450.2 C99.4 450.4 99.4 448.2 108.1 450.8 C116.9 453.4 113.8 452.6 121.2 458.0 C128.7 463.5 126.0 462.4 130.4 467.2 C134.8 472.0 133.0 470.7 134.3 472.5" />
<path class="k2" d="M97.6 448.2 C102.0 448.4 102.2 446.4 110.7 448.9 C119.3 451.3 115.8 449.9 123.2 455.4 C130.6 460.9 129.8 462.0 133.0 465.2" />
<path class="k" d="M95.0 453.4 C99.8 454.8 100.7 453.2 109.4 457.4 C118.2 461.5 115.1 460.0 121.2 465.9 C127.3 471.8 125.6 472.0 127.8 475.1" />
<path class="k" d="M112.0 448.2 L124.5 443.6 L127.1 444.9 L125.8 448.2 L114.7 452.1" />
<path class="k3" d="M115.2 453.6 L125.3 449.6" />
<path class="k3" d="M115.7 455.0 L125.6 451.1" />
<path class="k3" d="M116.2 456.5 L125.8 452.5" />
<path class="k2" d="M124.5 443.6 L125.6 441.5" />
<path class="k" d="M122.5 453.4 L134.3 448.9 L137.6 450.8 L137.0 454.1 L125.2 458.7" />
<path class="k3" d="M125.7 460.1 L136.4 455.5" />
<path class="k3" d="M126.2 461.6 L136.7 457.0" />
<path class="k3" d="M126.7 463.0 L137.0 458.4" />
<path class="k2" d="M134.3 448.9 L135.4 446.8" />
<path class="k" d="M130.4 460.7 L143.5 455.4 L147.5 457.4 L146.8 460.7 L134.3 465.9" />
<path class="k3" d="M134.9 467.3 L146.3 462.1" />
<path class="k3" d="M135.4 468.8 L146.5 463.5" />
<path class="k3" d="M135.9 470.2 L146.8 465.0" />
<path class="k2" d="M143.5 455.4 L144.6 453.3" />
<path class="k3" d="M124.5 443.6 L138.9 448.2" />
<path class="k2" d="M127.1 444.9 L127.8 441.0" />
<path class="k2" d="M137.6 450.8 L138.3 446.2" />
<path class="k2" d="M147.5 457.4 L148.1 452.8" />
<path class="k3" d="M114.7 446.2 L139.6 458.0 L150.1 463.3" />
<path class="k2" d="M134.3 472.5 C135.0 472.0 135.0 471.1 138.3 469.8 C141.6 468.5 149.6 465.2 154.0 464.6 C158.4 463.9 162.8 465.7 164.5 465.9" />
<path class="k w" d="M130.4 476.4 C130.4 475.3 129.1 475.2 133.0 473.8 C137.0 472.3 149.6 468.7 154.0 467.9 C158.4 467.0 154.7 467.2 159.3 468.5 C163.9 469.8 177.6 474.0 181.6 475.7 C185.5 477.5 183.3 477.9 182.9 479.0 C182.4 480.1 182.9 481.2 178.9 482.3 C175.0 483.4 163.6 485.1 159.3 485.6 C154.9 486.0 157.1 485.8 152.7 484.9 C148.3 484.0 136.7 481.7 133.0 480.3 C129.3 478.9 130.4 477.5 130.4 476.4Z" />
<path class="k2" d="M130.4 477.7 C130.8 478.4 129.3 480.4 133.0 481.9 C136.7 483.4 148.3 485.7 152.7 486.6 C157.1 487.5 154.9 487.7 159.3 487.3 C163.6 486.8 175.0 485.2 178.9 484.0 C182.9 482.8 182.2 480.9 182.9 480.3" />
<ellipse class="k" cx="137.2" cy="477.0" rx="2.9" ry="1.6" transform="rotate(8.0 137.2 477.0)" />
<ellipse class="k" cx="177.0" cy="477.0" rx="2.9" ry="1.6" transform="rotate(8.0 177.0 477.0)" />
<path class="k" d="M145.5 475.1 C146.5 473.3 146.7 473.2 150.1 471.8 C153.4 470.4 152.3 469.9 156.6 470.5 C161.0 471.1 161.4 471.6 164.5 473.8 C167.7 475.9 168.3 475.5 167.1 477.7 C166.0 479.9 164.9 480.2 160.6 481.0 C156.2 481.8 156.8 481.3 152.7 480.3 C148.6 479.3 149.0 479.3 146.8 477.7 C144.6 476.1 144.5 476.9 145.5 475.1Z" />
<path class="k" d="M151.4 475.7 L156.6 472.5 L164.5 476.4 L159.3 479.7Z" />
<path d="M157.7 478.0 L164.5 476.7 L160.3 480.1Z" fill="#222"/>
<path class="k2" d="M152.7 472.5 L153.4 477.7" />
<path class="k2" d="M156.6 472.5 L156.9 475.7" />
<path class="k" d="M126.5 475.1 L130.4 476.4" />
<path class="k" d="M127.8 477.7 L147.5 488.9 L196.0 482.3" />
<path class="k2" d="M150.1 491.5 L197.3 485.6" />
<path class="k2" d="M126.5 475.1 L138.3 483.0 L147.5 488.9" />
<path class="k" d="M134.3 485.6 C135.7 486.4 138.3 487.9 140.9 489.5 C143.5 491.1 144.8 491.6 147.5 493.4 C150.1 495.3 152.7 497.6 154.0 498.7" />
<path class="k3" d="M185.5 489.5 C187.2 490.6 187.7 490.2 190.7 492.8 C193.8 495.4 193.4 495.8 194.7 497.4" />
<path class="k2" d="M196.0 482.3 C196.9 483.2 197.3 483.0 198.6 484.9 C199.9 486.9 199.5 487.1 199.9 488.2" />
<path class="k" d="M154.1 499.8 L199.2 486.2" />
<path class="k2" d="M160.4 501.6 L197.6 490.2" />
<path class="k" d="M159.5 506.0 L195.6 494.6" />
<path class="k" d="M161.3 509.5 L190.2 500.6" />
<path class="k2" d="M162.0 511.5 L186.0 504.3" />
<path class="k2" d="M183.9 503.5 L177.5 538.7" />
<path class="k3" d="M182.5 504.0 L176.0 539.5" />
<path class="k3" d="M181.0 504.3 L174.8 541.0" />
<path class="k2" d="M179.4 504.9 L173.9 542.3" />
<path class="k2" d="M187.5 498.5 L187.0 506.0 L184.0 511.0" />
<path class="k" d="M144.2 514.3 L139.3 554.9" />
<path class="k2" d="M141.8 514.3 L137.0 556.7" />
<path class="k3" d="M146.5 513.5 L141.8 553.0" />
<path class="k" d="M139.3 555.3 L173.9 542.7 L177.5 538.7" />
<path class="k3" d="M141.8 553.2 L173.0 541.5" />
<path class="k2" d="M143.3 559.4 L176.6 548.6" />
<path class="k" d="M147.8 566.6 L184.8 555.8" />
<path class="k2" d="M149.5 569.5 L186.5 558.5" />
<path class="k" d="M151.4 574.8 L188.4 563.9" />
<path class="k" d="M152.3 580.4 L190.2 567.9" />
<path class="k2" d="M173.9 542.3 C175.1 543.2 174.8 542.4 177.5 545.0 C180.2 547.6 179.0 546.3 182.0 550.0 C185.0 553.7 184.3 552.3 186.6 556.0 C188.9 559.7 188.0 557.8 189.0 561.0 C190.0 564.2 189.3 564.0 189.5 565.5" />
<path class="k" d="M177.5 542.3 C180.5 545.3 181.8 545.3 186.6 551.3 C191.4 557.3 190.8 554.9 192.0 560.3 C193.2 565.7 190.8 565.1 190.2 567.5" />
<ellipse class="k2" cx="186.3" cy="559.0" rx="1.6" ry="3.2" transform="rotate(-20.0 186.3 559.0)" />
<path class="k" d="M166.5 576.2 C167.2 576.9 166.7 577.7 168.5 578.3 C170.3 578.9 170.2 578.9 172.0 578.0 C173.8 577.1 173.5 577.0 174.0 575.5 C174.5 574.0 173.7 574.2 173.5 573.6" />
<path class="k" d="M197.4 479.9 C198.4 481.3 199.3 481.1 200.5 484.0 C201.7 486.9 201.4 485.5 201.0 488.5 C200.6 491.5 201.0 491.0 199.2 493.0 C197.4 495.0 196.8 494.1 195.6 494.6" />
<path class="k2" d="M194.5 481.0 C195.5 482.3 196.4 482.2 197.5 485.0 C198.6 487.8 198.3 486.8 197.8 489.5 C197.3 492.2 196.6 491.8 196.0 493.0" />
<path class="k" d="M77.4 560.4 C74.3 558.0 70.7 556.0 65.9 551.4 C61.1 546.8 62.8 546.5 59.3 543.2 C55.8 539.9 56.3 542.2 52.8 539.1 C49.3 536.0 49.1 536.3 46.2 531.7 C43.3 527.1 43.6 526.7 42.1 521.9 C40.6 517.1 40.5 519.7 40.5 513.7 C40.5 507.7 41.4 505.3 42.1 499.3 C42.8 493.3 43.4 495.0 43.0 491.1 C42.6 487.2 41.4 488.4 40.5 484.5 C39.6 480.6 39.0 480.2 39.7 476.3 C40.4 472.4 40.4 472.8 43.0 469.8 C45.6 466.8 46.2 468.2 49.5 464.9 C52.8 461.6 53.4 460.8 55.2 457.5 C57.0 454.2 55.4 455.2 56.1 452.6 C56.8 450.0 56.4 449.6 57.7 447.6 C59.0 445.6 60.1 445.8 61.0 445.2" />
<path class="k w" d="M57.9 452.0 C58.6 449.4 58.2 449.0 59.5 447.0 C60.8 445.0 60.4 445.3 62.8 444.6 C65.2 443.9 65.9 443.9 68.5 444.3 C71.1 444.7 70.2 445.3 72.6 446.2 C75.0 447.1 72.7 446.6 77.5 447.5 C82.3 448.4 84.6 447.7 90.7 449.5 C96.8 451.3 94.8 450.7 100.5 454.4 C106.2 458.1 106.3 458.1 112.0 463.4 C117.7 468.7 117.4 469.7 121.8 474.1 C126.2 478.5 124.6 475.3 128.4 479.8 C132.2 484.3 130.9 486.7 136.1 490.9 C141.3 495.1 142.5 493.2 147.8 495.4 C153.1 497.6 152.8 496.8 155.9 499.0 C159.0 501.2 158.8 500.6 159.5 503.5 C160.2 506.4 160.0 507.4 158.6 509.8 C157.2 512.2 158.2 511.5 154.1 512.5 C150.0 513.5 146.9 512.2 143.3 513.4 C139.7 514.6 141.7 511.2 140.6 517.0 C139.5 522.8 140.0 524.6 139.0 535.0 C138.0 545.4 137.2 548.5 136.8 556.0 C136.4 563.5 135.3 560.4 137.5 563.0 C139.7 565.6 141.6 563.0 145.1 565.7 C148.6 568.4 148.8 569.1 150.5 573.0 C152.2 576.9 152.4 577.3 151.4 580.2 C150.4 583.1 150.7 582.2 146.9 583.8 C143.1 585.4 141.8 585.3 137.0 586.3 C132.2 587.3 133.0 588.1 128.9 587.4 C124.8 586.7 125.9 586.1 121.8 583.6 C117.7 581.1 117.1 581.6 113.6 577.9 C110.1 574.2 111.8 573.0 108.7 569.7 C105.6 566.4 106.5 567.1 102.1 565.6 C97.7 564.1 98.4 565.4 92.3 563.9 C86.2 562.4 85.8 563.3 79.2 559.8 C72.6 556.3 72.5 555.4 67.7 550.8 C62.9 546.2 64.6 545.9 61.1 542.6 C57.6 539.3 58.1 541.6 54.6 538.5 C51.1 535.4 50.9 535.7 48.0 531.1 C45.1 526.5 45.4 526.1 43.9 521.3 C42.4 516.5 42.3 519.1 42.3 513.1 C42.3 507.1 43.2 504.7 43.9 498.7 C44.6 492.7 45.2 494.4 44.8 490.5 C44.4 486.6 43.2 487.8 42.3 483.9 C41.4 480.0 40.8 479.6 41.5 475.7 C42.2 471.8 42.2 472.2 44.8 469.2 C47.4 466.2 48.0 467.6 51.3 464.3 C54.6 461.0 55.2 460.2 57.0 456.9 C58.8 453.6 57.2 454.6 57.9 452.0Z" />
<g transform="translate(87 507) rotate(-18.7)"><ellipse class="k" rx="27.8" ry="39.9"/></g>
<g transform="translate(89.3 506.2) rotate(-18.7)"><path class="k2" d="M-6 -38 A27.2 39 0 0 1 2 38.9"/></g>
<g transform="translate(88.5 506.5) rotate(-18.7)"><path class="k3" d="M-27 -3 A27.2 39 0 0 0 -3 38.8"/></g>
<path class="k3" d="M81.5 541.0 L113.5 530.5" />
<path class="k" d="M75.2 455.3 C75.0 456.6 74.4 456.9 77.0 458.1 C79.7 459.2 80.8 458.2 85.3 459.7 C89.7 461.2 89.5 461.1 93.8 463.8 C98.1 466.4 97.9 466.4 101.4 469.7 C105.0 473.0 104.7 474.3 107.1 476.1 C109.4 477.9 109.4 477.1 110.3 476.3 C111.2 475.5 112.1 475.8 110.5 473.1 C109.0 470.4 108.4 469.8 104.6 466.3 C100.7 462.8 101.0 462.8 96.2 459.8 C91.5 456.9 91.6 457.0 86.7 455.3 C81.9 453.6 81.0 453.5 78.0 453.5 C74.9 453.6 75.5 454.1 75.2 455.3Z" />
<path class="kb" d="M79.0 456.8 C81.7 457.6 81.7 457.0 87.0 459.2 C92.3 461.4 90.0 460.2 95.0 463.5 C100.0 466.8 97.8 465.1 102.0 469.0 C106.2 472.9 105.7 473.2 107.5 475.3" />
<path class="k" d="M63.8 538.4 C63.0 539.3 61.8 538.8 63.9 541.7 C66.0 544.5 67.0 545.5 71.6 549.0 C76.1 552.5 76.0 552.4 81.0 554.9 C86.0 557.3 86.3 557.1 90.4 558.2 C94.4 559.3 93.9 559.4 96.2 559.1 C98.4 558.8 98.6 558.3 98.8 557.1 C99.0 555.9 98.7 555.4 96.8 554.5 C94.9 553.6 95.3 554.8 91.6 553.8 C87.9 552.8 87.6 553.0 83.0 550.7 C78.4 548.5 78.7 548.7 74.4 545.4 C70.2 542.1 69.9 540.2 67.1 538.3 C64.3 536.5 64.7 537.5 63.8 538.4Z" />
<path class="kb" d="M66.5 538.5 C69.0 540.8 68.5 541.3 74.0 545.5 C79.5 549.7 77.2 548.1 83.0 551.0 C88.8 553.9 87.2 553.0 91.5 554.3 C95.8 555.6 94.5 554.8 96.0 555.0" />
<path class="k" d="M50.7 507.7 C49.5 507.7 49.0 507.8 48.5 510.1 C48.0 512.4 48.2 512.9 48.7 516.3 C49.2 519.7 49.2 519.5 50.3 522.8 C51.4 526.0 51.4 526.6 52.9 528.5 C54.4 530.3 54.8 530.1 56.0 529.6 C57.1 529.1 57.4 528.8 57.1 526.5 C56.8 524.3 55.7 524.1 54.7 521.2 C53.7 518.3 53.7 518.7 53.3 515.7 C52.9 512.7 53.8 512.1 53.1 509.9 C52.4 507.8 51.9 507.7 50.7 507.7Z" />
<path class="k3" d="M50.8 511.0 C51.0 513.0 50.6 513.3 51.3 517.0 C52.0 520.7 52.3 520.3 52.8 522.0" stroke-width="2.2" stroke="#bdbdbd"/>
<ellipse class="k" cx="55.4" cy="528.4" rx="3.1" ry="3.8" transform="rotate(-18.0 55.4 528.4)" />
<ellipse class="k" cx="65.2" cy="454.4" rx="2.8" ry="3.5" transform="rotate(-18.0 65.2 454.4)" />
<ellipse class="k" cx="55.4" cy="470.0" rx="3.0" ry="5.0" transform="rotate(25.0 55.4 470.0)" />
<ellipse class="k2" cx="55.6" cy="470.3" rx="1.6" ry="3.3" transform="rotate(25.0 55.6 470.3)" />
<ellipse class="k" cx="119.0" cy="485.2" rx="3.0" ry="3.8" transform="rotate(-18.0 119.0 485.2)" />
<ellipse class="k" cx="120.2" cy="498.4" rx="1.8" ry="2.3" transform="rotate(-18.0 120.2 498.4)" />
<ellipse class="k" cx="108.7" cy="559.2" rx="3.0" ry="3.8" transform="rotate(-18.0 108.7 559.2)" />
<ellipse class="k" cx="113.2" cy="549.6" rx="1.8" ry="2.3" transform="rotate(-18.0 113.2 549.6)" />
<ellipse class="k" cx="150.0" cy="505.3" rx="3.5" ry="4.8" transform="rotate(-18.0 150.0 505.3)" />
<ellipse class="k2" cx="150.5" cy="505.3" rx="2.2" ry="3.4" transform="rotate(-18.0 150.5 505.3)" />
<ellipse class="k" cx="140.0" cy="576.2" rx="3.5" ry="4.8" transform="rotate(-18.0 140.0 576.2)" />
<ellipse class="k2" cx="140.5" cy="576.2" rx="2.2" ry="3.4" transform="rotate(-18.0 140.5 576.2)" />
<path class="k2" d="M136.1 490.9 L138.8 494.5 L137.0 530.0 L133.4 562.1 L137.5 563.0" />
<path class="k" d="M127.1 493.6 L133.4 491.8 L132.6 500.0 L131.6 507.1 L126.1 508.9" />
<path class="k2" d="M131.5 493.5 L130.3 506.0" />
<path class="k2" d="M126.5 494.5 L125.5 521.0" />
<path class="k" d="M118.9 544.1 L125.2 541.4 L123.8 556.0 L122.5 569.4 L127.1 574.8 L125.2 578.4 L117.1 574.8 L113.5 567.5 L116.2 564.8 L119.0 565.5 L118.9 544.1" />
<path class="k2" d="M123.5 543.0 L121.3 567.0" />
<path class="k3" d="M116.5 567.0 L124.0 572.0" />
<path class="k3" d="M118.0 524.0 L116.8 560.0" />

</g>
<!--bolt-->
<g id="bolt">
<path class="k w" d="M16.8 560 L36.1 549.6 Q38.5 549.6 39.6 551.6 Q40.3 553.8 39.3 555.5 L20.5 566.1 Z"/>
<path class="k w" d="M8.2 563.7 L10.2 560.8 L13.1 559.4 L16.4 560.4 L19.3 564.5 L19.8 568.6 L17.6 571.1 L12.3 571.5 L9 569.4 L8.2 566.1 Z"/>
<path class="k3" d="M10.5 561.5 Q13.5 565 14 571 M11 562 L15.5 566.5 L17.5 565 M15.5 566.5 L15.5 571 M9.5 565 Q9.5 568 11.5 570.5"/>
<path d="M40.2 550.6 L44.7 548.1 M47 546.8 L47.8 546.4 M50 545 L54.9 542.4" stroke="#a8a8a8" stroke-width="1" fill="none"/>
<path d="M188.4 465.5 L194 462.7 M196 461.7 L196.8 461.3 M199 460.2 L205.5 457" stroke="#a8a8a8" stroke-width="1" fill="none"/>

</g>
</svg>
</body></html>
